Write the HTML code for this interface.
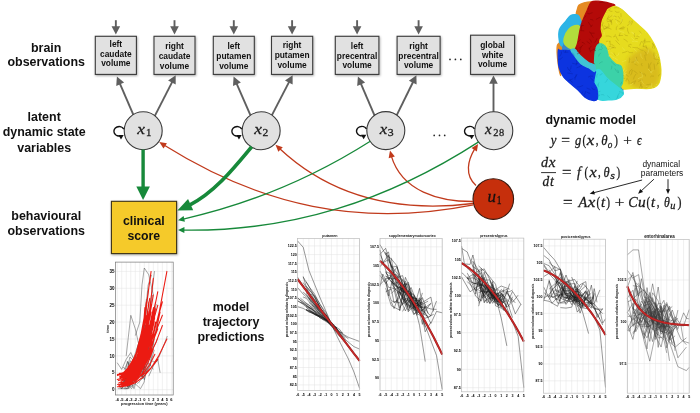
<!DOCTYPE html><html><head><meta charset="utf-8"><style>html,body{margin:0;padding:0;background:#fff;width:700px;height:413px;overflow:hidden;}svg{display:block;filter:blur(0.3px);}</style></head><body><svg width="700" height="413" viewBox="0 0 700 413"><text x="46.2" y="51.7" font-family="Liberation Sans, sans-serif" font-size="12.45" font-weight="bold" text-anchor="middle" fill="#111">brain</text><text x="46.2" y="66.4" font-family="Liberation Sans, sans-serif" font-size="12.45" font-weight="bold" text-anchor="middle" fill="#111">observations</text><text x="44.2" y="120.8" font-family="Liberation Sans, sans-serif" font-size="12.45" font-weight="bold" text-anchor="middle" fill="#111">latent</text><text x="44.2" y="135.9" font-family="Liberation Sans, sans-serif" font-size="12.45" font-weight="bold" text-anchor="middle" fill="#111">dynamic state</text><text x="44.2" y="151.9" font-family="Liberation Sans, sans-serif" font-size="12.45" font-weight="bold" text-anchor="middle" fill="#111">variables</text><text x="46.2" y="220.1" font-family="Liberation Sans, sans-serif" font-size="12.45" font-weight="bold" text-anchor="middle" fill="#111">behavioural</text><text x="46.2" y="235" font-family="Liberation Sans, sans-serif" font-size="12.45" font-weight="bold" text-anchor="middle" fill="#111">observations</text><text x="231" y="310.6" font-family="Liberation Sans, sans-serif" font-size="12.45" font-weight="bold" text-anchor="middle" fill="#111">model</text><text x="231" y="326.0" font-family="Liberation Sans, sans-serif" font-size="12.45" font-weight="bold" text-anchor="middle" fill="#111">trajectory</text><text x="231" y="340.6" font-family="Liberation Sans, sans-serif" font-size="12.45" font-weight="bold" text-anchor="middle" fill="#111">predictions</text><text x="545.5" y="124.0" font-family="Liberation Sans, sans-serif" font-size="12.45" font-weight="bold" text-anchor="start" fill="#111">dynamic model</text><filter id="sh" x="-20%" y="-20%" width="140%" height="140%"><feDropShadow dx="0.6" dy="1" stdDeviation="0.8" flood-color="#000" flood-opacity="0.35"/></filter><rect x="95.3" y="36.3" width="41.10" height="38.10" fill="#e1e1e1" stroke="#3a3a3a" stroke-width="1.1" filter="url(#sh)"/><text x="115.85" y="46.7" font-family="Liberation Sans, sans-serif" font-size="8.4" font-weight="bold" text-anchor="middle" fill="#111">left</text><text x="115.85" y="56.6" font-family="Liberation Sans, sans-serif" font-size="8.4" font-weight="bold" text-anchor="middle" fill="#111">caudate</text><text x="115.85" y="66.3" font-family="Liberation Sans, sans-serif" font-size="8.4" font-weight="bold" text-anchor="middle" fill="#111">volume</text><line x1="115.85" y1="20.20" x2="115.85" y2="27.30" stroke="#5f5f5f" stroke-width="1.9"/><path d="M115.85,34.60 L111.55,26.30 L120.15,26.30 Z" fill="#5f5f5f"/><rect x="154" y="36.3" width="41.00" height="38.10" fill="#e1e1e1" stroke="#3a3a3a" stroke-width="1.1" filter="url(#sh)"/><text x="174.50" y="49.1" font-family="Liberation Sans, sans-serif" font-size="8.4" font-weight="bold" text-anchor="middle" fill="#111">right</text><text x="174.50" y="59.1" font-family="Liberation Sans, sans-serif" font-size="8.4" font-weight="bold" text-anchor="middle" fill="#111">caudate</text><text x="174.50" y="68.5" font-family="Liberation Sans, sans-serif" font-size="8.4" font-weight="bold" text-anchor="middle" fill="#111">volume</text><line x1="174.50" y1="20.20" x2="174.50" y2="27.30" stroke="#5f5f5f" stroke-width="1.9"/><path d="M174.50,34.60 L170.20,26.30 L178.80,26.30 Z" fill="#5f5f5f"/><rect x="213.3" y="36.3" width="41.00" height="38.10" fill="#e1e1e1" stroke="#3a3a3a" stroke-width="1.1" filter="url(#sh)"/><text x="233.80" y="48.9" font-family="Liberation Sans, sans-serif" font-size="8.4" font-weight="bold" text-anchor="middle" fill="#111">left</text><text x="233.80" y="58.8" font-family="Liberation Sans, sans-serif" font-size="8.4" font-weight="bold" text-anchor="middle" fill="#111">putamen</text><text x="233.80" y="68.5" font-family="Liberation Sans, sans-serif" font-size="8.4" font-weight="bold" text-anchor="middle" fill="#111">volume</text><line x1="233.80" y1="20.20" x2="233.80" y2="27.30" stroke="#5f5f5f" stroke-width="1.9"/><path d="M233.80,34.60 L229.50,26.30 L238.10,26.30 Z" fill="#5f5f5f"/><rect x="271.5" y="36.3" width="41.20" height="38.10" fill="#e1e1e1" stroke="#3a3a3a" stroke-width="1.1" filter="url(#sh)"/><text x="292.10" y="48.1" font-family="Liberation Sans, sans-serif" font-size="8.4" font-weight="bold" text-anchor="middle" fill="#111">right</text><text x="292.10" y="58.3" font-family="Liberation Sans, sans-serif" font-size="8.4" font-weight="bold" text-anchor="middle" fill="#111">putamen</text><text x="292.10" y="67.9" font-family="Liberation Sans, sans-serif" font-size="8.4" font-weight="bold" text-anchor="middle" fill="#111">volume</text><line x1="292.10" y1="20.20" x2="292.10" y2="27.30" stroke="#5f5f5f" stroke-width="1.9"/><path d="M292.10,34.60 L287.80,26.30 L296.40,26.30 Z" fill="#5f5f5f"/><rect x="335.3" y="36.3" width="43.60" height="38.10" fill="#e1e1e1" stroke="#3a3a3a" stroke-width="1.1" filter="url(#sh)"/><text x="357.10" y="48.5" font-family="Liberation Sans, sans-serif" font-size="8.4" font-weight="bold" text-anchor="middle" fill="#111">left</text><text x="357.10" y="58.5" font-family="Liberation Sans, sans-serif" font-size="8.4" font-weight="bold" text-anchor="middle" fill="#111">precentral</text><text x="357.10" y="67.9" font-family="Liberation Sans, sans-serif" font-size="8.4" font-weight="bold" text-anchor="middle" fill="#111">volume</text><line x1="357.10" y1="20.20" x2="357.10" y2="27.30" stroke="#5f5f5f" stroke-width="1.9"/><path d="M357.10,34.60 L352.80,26.30 L361.40,26.30 Z" fill="#5f5f5f"/><rect x="397.1" y="36.3" width="43.00" height="38.10" fill="#e1e1e1" stroke="#3a3a3a" stroke-width="1.1" filter="url(#sh)"/><text x="418.60" y="48.5" font-family="Liberation Sans, sans-serif" font-size="8.4" font-weight="bold" text-anchor="middle" fill="#111">right</text><text x="418.60" y="58.5" font-family="Liberation Sans, sans-serif" font-size="8.4" font-weight="bold" text-anchor="middle" fill="#111">precentral</text><text x="418.60" y="67.9" font-family="Liberation Sans, sans-serif" font-size="8.4" font-weight="bold" text-anchor="middle" fill="#111">volume</text><line x1="418.60" y1="20.20" x2="418.60" y2="27.30" stroke="#5f5f5f" stroke-width="1.9"/><path d="M418.60,34.60 L414.30,26.30 L422.90,26.30 Z" fill="#5f5f5f"/><rect x="470.6" y="35.2" width="44.00" height="39.20" fill="#e1e1e1" stroke="#3a3a3a" stroke-width="1.1" filter="url(#sh)"/><text x="492.60" y="47.5" font-family="Liberation Sans, sans-serif" font-size="8.4" font-weight="bold" text-anchor="middle" fill="#111">global</text><text x="492.60" y="57.5" font-family="Liberation Sans, sans-serif" font-size="8.4" font-weight="bold" text-anchor="middle" fill="#111">white</text><text x="492.60" y="67.3" font-family="Liberation Sans, sans-serif" font-size="8.4" font-weight="bold" text-anchor="middle" fill="#111">volume</text><circle cx="450.0" cy="59.4" r="0.85" fill="#222"/><circle cx="455.4" cy="59.4" r="0.85" fill="#222"/><circle cx="460.8" cy="59.4" r="0.85" fill="#222"/><line x1="133.39" y1="114.88" x2="119.79" y2="83.30" stroke="#5f5f5f" stroke-width="1.9"/><path d="M116.90,76.60 L124.13,82.52 L116.23,85.92 Z" fill="#5f5f5f"/><line x1="154.71" y1="116.07" x2="172.37" y2="81.69" stroke="#5f5f5f" stroke-width="1.9"/><path d="M175.70,75.20 L175.73,84.55 L168.08,80.62 Z" fill="#5f5f5f"/><line x1="250.54" y1="115.40" x2="236.52" y2="83.29" stroke="#5f5f5f" stroke-width="1.9"/><path d="M233.60,76.60 L240.86,82.49 L232.98,85.93 Z" fill="#5f5f5f"/><line x1="271.80" y1="115.43" x2="289.25" y2="81.68" stroke="#5f5f5f" stroke-width="1.9"/><path d="M292.60,75.20 L292.61,84.55 L284.97,80.60 Z" fill="#5f5f5f"/><line x1="374.61" y1="115.62" x2="360.77" y2="83.31" stroke="#5f5f5f" stroke-width="1.9"/><path d="M357.90,76.60 L365.12,82.54 L357.21,85.92 Z" fill="#5f5f5f"/><line x1="396.64" y1="115.36" x2="413.18" y2="81.75" stroke="#5f5f5f" stroke-width="1.9"/><path d="M416.40,75.20 L416.59,84.55 L408.88,80.75 Z" fill="#5f5f5f"/><line x1="493.50" y1="112.00" x2="493.50" y2="82.70" stroke="#5f5f5f" stroke-width="1.9"/><path d="M493.50,75.40 L497.80,83.70 L489.20,83.70 Z" fill="#5f5f5f"/><circle cx="143.2" cy="130.8" r="19.0" fill="#e1e1e1" stroke="#3a3a3a" stroke-width="1.1"/><path d="M123.88,129.09 A5.3,4.7 0 1 0 120.84,135.77" fill="none" stroke="#111" stroke-width="1.45"/><path d="M118.40,135.00 L123.70,135.00 L121.00,139.40 Z" fill="#111"/><text transform="translate(137.00,134.00) scale(1.122,1)" x="0.23" y="0" font-family="Liberation Serif, serif" font-size="15.5" font-style="italic" fill="#1a1a1a" stroke="#1a1a1a" stroke-width="0.28">x</text><text transform="translate(146.10,136.10) scale(1.000,1)" x="-0.00" y="0" font-family="Liberation Serif, serif" font-size="10.8" fill="#1a1a1a" stroke="#1a1a1a" stroke-width="0.28">1</text><circle cx="261.15" cy="130.8" r="19.0" fill="#e1e1e1" stroke="#3a3a3a" stroke-width="1.1"/><path d="M241.83,129.09 A5.3,4.7 0 1 0 238.79,135.77" fill="none" stroke="#111" stroke-width="1.45"/><path d="M236.35,135.00 L241.65,135.00 L238.95,139.40 Z" fill="#111"/><text transform="translate(254.00,133.80) scale(1.122,1)" x="0.23" y="0" font-family="Liberation Serif, serif" font-size="15.5" font-style="italic" fill="#1a1a1a" stroke="#1a1a1a" stroke-width="0.28">x</text><text transform="translate(262.40,135.90) scale(1.074,1)" x="-0.00" y="0" font-family="Liberation Serif, serif" font-size="10.8" fill="#1a1a1a" stroke="#1a1a1a" stroke-width="0.28">2</text><circle cx="385.8" cy="130.6" r="19.0" fill="#e1e1e1" stroke="#3a3a3a" stroke-width="1.1"/><path d="M366.48,128.89 A5.3,4.7 0 1 0 363.44,135.57" fill="none" stroke="#111" stroke-width="1.45"/><path d="M361.00,134.80 L366.30,134.80 L363.60,139.20 Z" fill="#111"/><text transform="translate(379.40,133.80) scale(1.094,1)" x="0.23" y="0" font-family="Liberation Serif, serif" font-size="15.5" font-style="italic" fill="#1a1a1a" stroke="#1a1a1a" stroke-width="0.28">x</text><text transform="translate(387.70,136.00) scale(1.093,1)" x="-0.00" y="0" font-family="Liberation Serif, serif" font-size="10.8" fill="#1a1a1a" stroke="#1a1a1a" stroke-width="0.28">3</text><circle cx="493.8" cy="130.7" r="19.0" fill="#e1e1e1" stroke="#3a3a3a" stroke-width="1.1"/><path d="M474.48,128.99 A5.3,4.7 0 1 0 471.44,135.67" fill="none" stroke="#111" stroke-width="1.45"/><path d="M469.00,134.90 L474.30,134.90 L471.60,139.30 Z" fill="#111"/><text transform="translate(484.90,133.50) scale(0.968,1)" x="0.23" y="0" font-family="Liberation Serif, serif" font-size="15.5" font-style="italic" fill="#1a1a1a" stroke="#1a1a1a" stroke-width="0.28">x</text><text transform="translate(493.30,136.30) scale(0.981,1)" x="-0.00" y="0" font-family="Liberation Serif, serif" font-size="10.8" fill="#1a1a1a" stroke="#1a1a1a" stroke-width="0.28">2</text><text transform="translate(499.00,136.30) scale(0.963,1)" x="-0.00" y="0" font-family="Liberation Serif, serif" font-size="10.8" fill="#1a1a1a" stroke="#1a1a1a" stroke-width="0.28">8</text><circle cx="434.2" cy="135.4" r="0.85" fill="#222"/><circle cx="439.5" cy="135.4" r="0.85" fill="#222"/><circle cx="444.7" cy="135.4" r="0.85" fill="#222"/><circle cx="493.3" cy="199.1" r="20.3" fill="#c62f0c" stroke="#3a1a10" stroke-width="1.1"/><text transform="translate(487.60,201.80) scale(1.000,1)" x="-0.00" y="0" font-family="Liberation Serif, serif" font-size="17" font-style="italic" fill="#151010" stroke="#151010" stroke-width="0.28">u</text><text transform="translate(496.80,203.90) scale(0.800,1)" x="-0.00" y="0" font-family="Liberation Serif, serif" font-size="12" fill="#151010" stroke="#151010" stroke-width="0.28">1</text><path d="M473.30,204.80 C360.02,227.43 261.34,206.09 164.33,145.29" fill="none" stroke="#c13a1c" stroke-width="1.3"/><path d="M159.30,142.10 L166.93,143.14 L163.50,148.55 Z" fill="#c13a1c"/><path d="M473.00,203.50 C401.24,212.38 333.04,198.54 279.79,148.82" fill="none" stroke="#c13a1c" stroke-width="1.3"/><path d="M275.50,144.70 L282.77,147.22 L278.35,151.85 Z" fill="#c13a1c"/><path d="M473.00,201.50 C439.11,201.63 401.92,191.28 391.44,156.37" fill="none" stroke="#c13a1c" stroke-width="1.3"/><path d="M390.00,150.60 L394.85,156.58 L388.65,158.18 Z" fill="#c13a1c"/><path d="M476.00,185.50 C464.35,175.17 467.87,160.08 474.73,148.81" fill="none" stroke="#c13a1c" stroke-width="1.3"/><path d="M478.10,143.90 L476.85,151.49 L471.54,147.92 Z" fill="#c13a1c"/><path d="M370.28,141.22 C313.26,177.40 249.29,204.14 183.31,219.03" fill="none" stroke="#17893a" stroke-width="1.3"/><path d="M178.00,220.20 L183.60,215.89 L184.90,221.75 Z" fill="#17893a"/><path d="M478.65,141.83 C387.53,200.71 291.72,231.69 183.44,230.11" fill="none" stroke="#17893a" stroke-width="1.3"/><path d="M178.00,230.00 L184.46,227.12 L184.34,233.12 Z" fill="#17893a"/><path d="M251.64,146.79 C233.48,168.71 214.55,192.39 188.69,205.67" fill="none" stroke="#17893a" stroke-width="3.7"/><path d="M177.40,210.60 L188.06,198.95 L193.19,210.35 Z" fill="#17893a"/><line x1="143.10" y1="149.60" x2="143.10" y2="187.60" stroke="#17893a" stroke-width="3.4"/><path d="M143.10,200.10 L136.30,186.60 L149.90,186.60 Z" fill="#17893a"/><rect x="111.4" y="201.3" width="65.2" height="52.3" fill="#f5ca2c" stroke="#3a3218" stroke-width="1.1" filter="url(#sh)"/><text x="143.8" y="224.7" font-family="Liberation Sans, sans-serif" font-size="12.3" font-weight="bold" text-anchor="middle" fill="#111">clinical</text><text x="143.8" y="240" font-family="Liberation Sans, sans-serif" font-size="12.3" font-weight="bold" text-anchor="middle" fill="#111">score</text><text transform="translate(549.70,145.30) scale(0.879,1)" x="1.24" y="0" font-family="Liberation Serif, serif" font-size="14.6" font-style="italic" fill="#1a1a1a" stroke="#1a1a1a" stroke-width="0.28">y</text><text transform="translate(561.20,145.30) scale(1.055,1)" x="-0.00" y="0" font-family="Liberation Serif, serif" font-size="14.6" fill="#1a1a1a" stroke="#1a1a1a" stroke-width="0.28">=</text><text transform="translate(574.90,145.30) scale(0.863,1)" x="-0.00" y="0" font-family="Liberation Serif, serif" font-size="14.6" font-style="italic" fill="#1a1a1a" stroke="#1a1a1a" stroke-width="0.28">g</text><text transform="translate(582.40,145.30) scale(0.750,1)" x="-0.00" y="0" font-family="Liberation Serif, serif" font-size="14.6" fill="#1a1a1a" stroke="#1a1a1a" stroke-width="0.28">(</text><text transform="translate(586.40,145.30) scale(1.161,1)" x="0.22" y="0" font-family="Liberation Serif, serif" font-size="14.6" font-style="italic" fill="#1a1a1a" stroke="#1a1a1a" stroke-width="0.28">x</text><text transform="translate(595.80,145.30) scale(0.750,1)" x="-0.00" y="0" font-family="Liberation Serif, serif" font-size="14.6" fill="#1a1a1a" stroke="#1a1a1a" stroke-width="0.28">,</text><text transform="translate(601.30,145.30) scale(0.881,1)" x="-0.00" y="0" font-family="Liberation Serif, serif" font-size="14.6" font-style="italic" fill="#1a1a1a" stroke="#1a1a1a" stroke-width="0.28">θ</text><text transform="translate(607.80,147.50) scale(0.876,1)" x="-0.00" y="0" font-family="Liberation Serif, serif" font-size="10.5" font-style="italic" fill="#1a1a1a" stroke="#1a1a1a" stroke-width="0.28">o</text><text transform="translate(614.20,145.30) scale(0.750,1)" x="-0.00" y="0" font-family="Liberation Serif, serif" font-size="14.6" fill="#1a1a1a" stroke="#1a1a1a" stroke-width="0.28">)</text><text transform="translate(623.30,145.30) scale(1.043,1)" x="-0.00" y="0" font-family="Liberation Serif, serif" font-size="14.6" fill="#1a1a1a" stroke="#1a1a1a" stroke-width="0.28">+</text><text transform="translate(637.10,145.30) scale(0.778,1)" x="-0.00" y="0" font-family="Liberation Serif, serif" font-size="14.6" font-style="italic" fill="#1a1a1a" stroke="#1a1a1a" stroke-width="0.28">ϵ</text><text transform="translate(541.10,166.90) scale(0.977,1)" x="-0.00" y="0" font-family="Liberation Serif, serif" font-size="14.6" font-style="italic" fill="#1a1a1a" stroke="#1a1a1a" stroke-width="0.28">d</text><text transform="translate(548.60,166.90) scale(1.042,1)" x="0.22" y="0" font-family="Liberation Serif, serif" font-size="14.6" font-style="italic" fill="#1a1a1a" stroke="#1a1a1a" stroke-width="0.28">x</text><line x1="541.1" y1="172.6" x2="556" y2="172.6" stroke="#1a1a1a" stroke-width="0.9"/><text transform="translate(542.50,185.50) scale(0.922,1)" x="-0.00" y="0" font-family="Liberation Serif, serif" font-size="14.6" font-style="italic" fill="#1a1a1a" stroke="#1a1a1a" stroke-width="0.28">d</text><text transform="translate(549.90,185.50) scale(0.936,1)" x="-0.00" y="0" font-family="Liberation Serif, serif" font-size="14.6" font-style="italic" fill="#1a1a1a" stroke="#1a1a1a" stroke-width="0.28">t</text><text transform="translate(562.10,176.60) scale(1.152,1)" x="-0.00" y="0" font-family="Liberation Serif, serif" font-size="14.6" fill="#1a1a1a" stroke="#1a1a1a" stroke-width="0.28">=</text><text transform="translate(577.10,176.60) scale(0.936,1)" x="-0.00" y="0" font-family="Liberation Serif, serif" font-size="14.6" font-style="italic" fill="#1a1a1a" stroke="#1a1a1a" stroke-width="0.28">f</text><text transform="translate(584.50,176.60) scale(0.756,1)" x="-0.00" y="0" font-family="Liberation Serif, serif" font-size="14.6" fill="#1a1a1a" stroke="#1a1a1a" stroke-width="0.28">(</text><text transform="translate(589.30,176.60) scale(1.117,1)" x="0.22" y="0" font-family="Liberation Serif, serif" font-size="14.6" font-style="italic" fill="#1a1a1a" stroke="#1a1a1a" stroke-width="0.28">x</text><text transform="translate(598.10,176.60) scale(0.750,1)" x="-0.00" y="0" font-family="Liberation Serif, serif" font-size="14.6" fill="#1a1a1a" stroke="#1a1a1a" stroke-width="0.28">,</text><text transform="translate(603.50,176.60) scale(0.853,1)" x="-0.00" y="0" font-family="Liberation Serif, serif" font-size="14.6" font-style="italic" fill="#1a1a1a" stroke="#1a1a1a" stroke-width="0.28">θ</text><text transform="translate(610.30,178.80) scale(1.123,1)" x="-0.00" y="0" font-family="Liberation Serif, serif" font-size="10.5" font-style="italic" fill="#1a1a1a" stroke="#1a1a1a" stroke-width="0.28">s</text><text transform="translate(616.60,176.60) scale(0.756,1)" x="-0.00" y="0" font-family="Liberation Serif, serif" font-size="14.6" fill="#1a1a1a" stroke="#1a1a1a" stroke-width="0.28">)</text><text transform="translate(563.10,206.50) scale(1.164,1)" x="-0.00" y="0" font-family="Liberation Serif, serif" font-size="14.6" fill="#1a1a1a" stroke="#1a1a1a" stroke-width="0.28">=</text><text transform="translate(577.80,206.50) scale(0.981,1)" x="0.80" y="0" font-family="Liberation Serif, serif" font-size="14.6" font-style="italic" fill="#1a1a1a" stroke="#1a1a1a" stroke-width="0.28">A</text><text transform="translate(587.60,206.50) scale(1.176,1)" x="0.22" y="0" font-family="Liberation Serif, serif" font-size="14.6" font-style="italic" fill="#1a1a1a" stroke="#1a1a1a" stroke-width="0.28">x</text><text transform="translate(596.50,206.50) scale(0.750,1)" x="-0.00" y="0" font-family="Liberation Serif, serif" font-size="14.6" fill="#1a1a1a" stroke="#1a1a1a" stroke-width="0.28">(</text><text transform="translate(600.90,206.50) scale(1.005,1)" x="-0.00" y="0" font-family="Liberation Serif, serif" font-size="14.6" font-style="italic" fill="#1a1a1a" stroke="#1a1a1a" stroke-width="0.28">t</text><text transform="translate(606.30,206.50) scale(0.777,1)" x="-0.00" y="0" font-family="Liberation Serif, serif" font-size="14.6" fill="#1a1a1a" stroke="#1a1a1a" stroke-width="0.28">)</text><text transform="translate(614.80,206.50) scale(1.164,1)" x="-0.00" y="0" font-family="Liberation Serif, serif" font-size="14.6" fill="#1a1a1a" stroke="#1a1a1a" stroke-width="0.28">+</text><text transform="translate(628.30,206.50) scale(0.967,1)" x="-0.00" y="0" font-family="Liberation Serif, serif" font-size="14.6" font-style="italic" fill="#1a1a1a" stroke="#1a1a1a" stroke-width="0.28">C</text><text transform="translate(637.90,206.50) scale(1.055,1)" x="-0.00" y="0" font-family="Liberation Serif, serif" font-size="14.6" font-style="italic" fill="#1a1a1a" stroke="#1a1a1a" stroke-width="0.28">u</text><text transform="translate(646.60,206.50) scale(0.756,1)" x="-0.00" y="0" font-family="Liberation Serif, serif" font-size="14.6" fill="#1a1a1a" stroke="#1a1a1a" stroke-width="0.28">(</text><text transform="translate(651.00,206.50) scale(0.982,1)" x="-0.00" y="0" font-family="Liberation Serif, serif" font-size="14.6" font-style="italic" fill="#1a1a1a" stroke="#1a1a1a" stroke-width="0.28">t</text><text transform="translate(656.80,206.50) scale(0.750,1)" x="-0.00" y="0" font-family="Liberation Serif, serif" font-size="14.6" fill="#1a1a1a" stroke="#1a1a1a" stroke-width="0.28">,</text><text transform="translate(664.00,206.50) scale(0.811,1)" x="-0.00" y="0" font-family="Liberation Serif, serif" font-size="14.6" font-style="italic" fill="#1a1a1a" stroke="#1a1a1a" stroke-width="0.28">θ</text><text transform="translate(670.30,208.70) scale(0.990,1)" x="-0.00" y="0" font-family="Liberation Serif, serif" font-size="10.5" font-style="italic" fill="#1a1a1a" stroke="#1a1a1a" stroke-width="0.28">u</text><text transform="translate(677.50,206.50) scale(0.818,1)" x="-0.00" y="0" font-family="Liberation Serif, serif" font-size="14.6" fill="#1a1a1a" stroke="#1a1a1a" stroke-width="0.28">)</text><text x="661.3" y="167.1" font-family="Liberation Sans, sans-serif" font-size="8.4" text-anchor="middle" fill="#111">dynamical</text><text x="662" y="176.1" font-family="Liberation Sans, sans-serif" font-size="8.4" text-anchor="middle" fill="#111">parameters</text><line x1="642.10" y1="180.00" x2="593.37" y2="192.83" stroke="#111" stroke-width="0.9"/><path d="M589.70,193.80 L593.81,190.55 L594.88,194.61 Z" fill="#111"/><line x1="653.90" y1="179.20" x2="640.89" y2="191.22" stroke="#111" stroke-width="0.9"/><path d="M638.10,193.80 L640.20,189.00 L643.05,192.08 Z" fill="#111"/><line x1="668.00" y1="179.20" x2="668.00" y2="190.30" stroke="#111" stroke-width="0.9"/><path d="M668.00,194.10 L665.90,189.30 L670.10,189.30 Z" fill="#111"/><rect x="297.6" y="238.6" width="62.00" height="151.80" fill="#fff" stroke="none"/><path d="M297.60,238.60V390.40M303.24,238.60V390.40M308.87,238.60V390.40M314.51,238.60V390.40M320.15,238.60V390.40M325.78,238.60V390.40M331.42,238.60V390.40M337.05,238.60V390.40M342.69,238.60V390.40M348.33,238.60V390.40M353.96,238.60V390.40M359.60,238.60V390.40M297.60,384.90H359.60M297.60,376.21H359.60M297.60,367.52H359.60M297.60,358.84H359.60M297.60,350.15H359.60M297.60,341.46H359.60M297.60,332.77H359.60M297.60,324.09H359.60M297.60,315.40H359.60M297.60,306.71H359.60M297.60,298.02H359.60M297.60,289.34H359.60M297.60,280.65H359.60M297.60,271.96H359.60M297.60,263.27H359.60M297.60,254.59H359.60M297.60,245.90H359.60" stroke="#e2e2e2" stroke-width="0.5" fill="none"/><text x="297.60" y="395.60" font-family="Liberation Sans, sans-serif" font-size="3.6" font-weight="bold" text-anchor="middle" fill="#000">-6</text><text x="303.24" y="395.60" font-family="Liberation Sans, sans-serif" font-size="3.6" font-weight="bold" text-anchor="middle" fill="#000">-5</text><text x="308.87" y="395.60" font-family="Liberation Sans, sans-serif" font-size="3.6" font-weight="bold" text-anchor="middle" fill="#000">-4</text><text x="314.51" y="395.60" font-family="Liberation Sans, sans-serif" font-size="3.6" font-weight="bold" text-anchor="middle" fill="#000">-3</text><text x="320.15" y="395.60" font-family="Liberation Sans, sans-serif" font-size="3.6" font-weight="bold" text-anchor="middle" fill="#000">-2</text><text x="325.78" y="395.60" font-family="Liberation Sans, sans-serif" font-size="3.6" font-weight="bold" text-anchor="middle" fill="#000">-1</text><text x="331.42" y="395.60" font-family="Liberation Sans, sans-serif" font-size="3.6" font-weight="bold" text-anchor="middle" fill="#000">0</text><text x="337.05" y="395.60" font-family="Liberation Sans, sans-serif" font-size="3.6" font-weight="bold" text-anchor="middle" fill="#000">1</text><text x="342.69" y="395.60" font-family="Liberation Sans, sans-serif" font-size="3.6" font-weight="bold" text-anchor="middle" fill="#000">2</text><text x="348.33" y="395.60" font-family="Liberation Sans, sans-serif" font-size="3.6" font-weight="bold" text-anchor="middle" fill="#000">3</text><text x="353.96" y="395.60" font-family="Liberation Sans, sans-serif" font-size="3.6" font-weight="bold" text-anchor="middle" fill="#000">4</text><text x="359.60" y="395.60" font-family="Liberation Sans, sans-serif" font-size="3.6" font-weight="bold" text-anchor="middle" fill="#000">5</text><text x="296.70" y="386.20" font-family="Liberation Sans, sans-serif" font-size="3.6" font-weight="bold" text-anchor="end" fill="#000">82.5</text><text x="296.70" y="377.51" font-family="Liberation Sans, sans-serif" font-size="3.6" font-weight="bold" text-anchor="end" fill="#000">85</text><text x="296.70" y="368.82" font-family="Liberation Sans, sans-serif" font-size="3.6" font-weight="bold" text-anchor="end" fill="#000">87.5</text><text x="296.70" y="360.13" font-family="Liberation Sans, sans-serif" font-size="3.6" font-weight="bold" text-anchor="end" fill="#000">90</text><text x="296.70" y="351.45" font-family="Liberation Sans, sans-serif" font-size="3.6" font-weight="bold" text-anchor="end" fill="#000">92.5</text><text x="296.70" y="342.76" font-family="Liberation Sans, sans-serif" font-size="3.6" font-weight="bold" text-anchor="end" fill="#000">95</text><text x="296.70" y="334.07" font-family="Liberation Sans, sans-serif" font-size="3.6" font-weight="bold" text-anchor="end" fill="#000">97.5</text><text x="296.70" y="325.38" font-family="Liberation Sans, sans-serif" font-size="3.6" font-weight="bold" text-anchor="end" fill="#000">100</text><text x="296.70" y="316.70" font-family="Liberation Sans, sans-serif" font-size="3.6" font-weight="bold" text-anchor="end" fill="#000">102.5</text><text x="296.70" y="308.01" font-family="Liberation Sans, sans-serif" font-size="3.6" font-weight="bold" text-anchor="end" fill="#000">105</text><text x="296.70" y="299.32" font-family="Liberation Sans, sans-serif" font-size="3.6" font-weight="bold" text-anchor="end" fill="#000">107.5</text><text x="296.70" y="290.63" font-family="Liberation Sans, sans-serif" font-size="3.6" font-weight="bold" text-anchor="end" fill="#000">110</text><text x="296.70" y="281.95" font-family="Liberation Sans, sans-serif" font-size="3.6" font-weight="bold" text-anchor="end" fill="#000">112.5</text><text x="296.70" y="273.26" font-family="Liberation Sans, sans-serif" font-size="3.6" font-weight="bold" text-anchor="end" fill="#000">115</text><text x="296.70" y="264.57" font-family="Liberation Sans, sans-serif" font-size="3.6" font-weight="bold" text-anchor="end" fill="#000">117.5</text><text x="296.70" y="255.88" font-family="Liberation Sans, sans-serif" font-size="3.6" font-weight="bold" text-anchor="end" fill="#000">120</text><text x="296.70" y="247.20" font-family="Liberation Sans, sans-serif" font-size="3.6" font-weight="bold" text-anchor="end" fill="#000">122.5</text><text x="329.80" y="237.30" font-family="Liberation Sans, sans-serif" font-size="3.65" font-weight="bold" text-anchor="middle" fill="#111">putamen</text><text transform="translate(288.00,309.70) rotate(-90)" x="0" y="0" font-family="Liberation Sans, sans-serif" font-size="3.2" font-weight="bold" text-anchor="middle" fill="#222">percent volume relative to diagnosis</text><path d="M303.2,277.2 L308.9,286.4 L314.5,296.6 L317.3,301.7 L323.0,312.0 L325.8,314.2 L331.4,324.3 L339.9,329.6 L342.7,333.7M308.9,302.4 L314.5,307.9 L320.1,314.4 L325.8,319.5 L331.4,324.4 L337.1,330.8M300.4,302.2 L306.1,304.9 L314.5,311.1 L320.1,318.2 L325.8,320.1 L331.4,324.7 L337.1,327.7M308.9,295.0 L314.5,303.3 L320.1,311.1 L325.8,317.3 L328.6,321.6 L334.2,326.1M297.6,298.0 L306.1,305.2 L314.5,313.1 L320.1,316.6 L328.6,322.0 L334.2,327.5 L342.7,337.4 L348.3,346.4M306.1,288.5 L314.5,302.0 L317.3,306.5 L325.8,315.1 L331.4,325.4 L337.1,329.2 L339.9,332.4 L348.3,338.7M306.1,309.6 L314.5,312.9 L323.0,319.7 L328.6,321.2 L334.2,328.2 L337.1,331.3 L345.5,341.1M306.1,281.6 L308.9,286.4 L314.5,294.0 L320.1,304.6 L325.8,312.4 L331.4,324.2 L337.1,327.9M306.1,309.6 L308.9,312.1 L311.7,312.9 L317.3,315.0 L323.0,317.4 L331.4,322.7 L337.1,328.8 L339.9,333.1 L345.5,338.1M308.9,296.4 L317.3,308.0 L320.1,309.9 L325.8,318.0 L331.4,325.8 L334.2,327.4 L339.9,334.5M306.1,288.6 L311.7,297.5 L317.3,302.2 L320.1,308.2 L328.6,319.0 L337.1,331.4 L342.7,332.8M306.1,293.2 L311.7,303.5 L320.1,312.2 L325.8,320.1 L331.4,324.0 L337.1,331.5M297.6,300.9 L303.2,303.6 L311.7,312.0 L317.3,314.8 L320.1,315.7 L325.8,319.3 L334.2,326.8M300.4,298.2 L308.9,305.3 L314.5,310.4 L323.0,316.2 L328.6,322.4 L334.2,326.6M308.9,310.1 L314.5,313.3 L317.3,315.2 L323.0,317.7 L328.6,322.9 L334.2,325.9 L337.1,330.9M306.1,309.6 L311.7,312.2 L314.5,314.5 L320.1,316.0 L323.0,319.0 L328.6,320.8 L331.4,322.7 L337.1,331.1M303.2,276.4 L306.1,286.4 L314.5,296.2 L320.1,307.8 L325.8,315.7 L328.6,319.4 L331.4,323.2 L334.2,327.0M308.9,295.2 L311.7,294.4 L317.3,306.0 L320.1,308.5 L328.6,318.4 L334.2,328.1M306.1,286.1 L311.7,292.5 L314.5,297.4 L323.0,312.7 L328.6,321.7 L334.2,327.5M306.1,307.2 L314.5,314.4 L317.3,316.0 L323.0,318.2 L328.6,320.4 L331.4,324.3 L334.2,325.8 L337.1,332.2M303.2,291.9 L311.7,301.0 L320.1,311.9 L325.8,317.3 L331.4,323.6 L337.1,329.5M303.2,282.6 L308.9,291.5 L317.3,305.4 L323.0,311.6 L328.6,319.1 L331.4,324.4M308.9,307.5 L317.3,312.7 L325.8,318.4 L331.4,322.1 L337.1,329.7 L342.7,337.4M306.1,309.9 L314.5,314.1 L320.1,317.3 L325.8,321.6 L328.6,322.8 L334.2,329.2M308.9,298.0 L314.5,305.2 L320.1,309.6 L325.8,318.3 L331.4,322.9 L337.1,329.6M311.7,304.8 L317.3,310.7 L325.8,317.8 L331.4,323.3 L337.1,329.9M314.5,295.3 L320.1,304.4 L328.6,319.7 L334.2,330.1 L339.9,336.9M297.6,300.7 L303.2,304.4 L306.1,306.4 L311.7,308.5 L314.5,312.2 L320.1,315.5 L325.8,320.7 L331.4,325.9 L337.1,329.1M303.2,297.0 L306.1,298.2 L311.7,304.5 L320.1,311.8 L323.0,314.4 L331.4,324.4 L334.2,324.7M306.1,305.0 L314.5,311.4 L320.1,315.0 L325.8,319.5 L331.4,325.9" fill="none" stroke="#1a1a1a" stroke-width="0.45" stroke-linejoin="round"/><path d="M297.60,241.03 L303.24,247.29 L308.87,270.23 L314.51,284.12 L320.15,298.02 L325.78,310.88 L331.42,324.09 L337.05,336.25 L342.69,347.72 L348.33,358.84 L353.96,372.04 L359.60,388.38" fill="none" stroke="#1a1a1a" stroke-width="0.45" stroke-opacity="1" stroke-linejoin="round"/><path d="M297.60,277.18 L303.24,285.86 L308.87,295.25 L314.51,301.50 L320.15,308.45 L325.78,317.14 L331.42,324.09" fill="none" stroke="#1a1a1a" stroke-width="0.45" stroke-opacity="1" stroke-linejoin="round"/><path d="M297.60,287.60 L303.24,294.20 L308.87,299.07 L314.51,304.98 L320.15,311.58" fill="none" stroke="#1a1a1a" stroke-width="0.45" stroke-opacity="1" stroke-linejoin="round"/><path d="M297.60,298.02 L303.24,302.19 L308.87,304.98 L314.51,309.14 L320.15,313.66" fill="none" stroke="#1a1a1a" stroke-width="0.45" stroke-opacity="1" stroke-linejoin="round"/><path d="M297.60,306.71 L303.24,308.45 L308.87,311.58 L314.51,314.36 L320.15,317.14" fill="none" stroke="#1a1a1a" stroke-width="0.45" stroke-opacity="1" stroke-linejoin="round"/><path d="M331.42,324.09 L337.05,329.30 L342.69,333.82 L348.33,337.29 L353.96,339.38 L359.60,341.46" fill="none" stroke="#1a1a1a" stroke-width="0.45" stroke-opacity="1" stroke-linejoin="round"/><path d="M331.42,324.09 L337.05,331.04 L342.69,336.94 L348.33,342.16 L353.96,346.67 L359.60,349.11" fill="none" stroke="#1a1a1a" stroke-width="0.45" stroke-opacity="1" stroke-linejoin="round"/><path d="M297.60,279.26 L300.42,282.99 L303.24,286.72 L306.05,290.45 L308.87,294.17 L311.69,297.90 L314.51,301.62 L317.33,305.34 L320.15,309.06 L322.96,312.78 L325.78,316.49 L328.60,320.20 L331.42,323.91 L334.24,327.62 L337.05,331.33 L339.87,335.04 L342.69,338.74 L345.51,342.44 L348.33,346.14 L351.15,349.84 L353.96,353.54 L356.78,357.23 L359.60,360.92" fill="none" stroke="#952020" stroke-width="2.1" stroke-opacity="1" stroke-linejoin="round"/><path d="M297.60,279.26 L300.42,282.99 L303.24,286.72 L306.05,290.45 L308.87,294.17 L311.69,297.90 L314.51,301.62 L317.33,305.34 L320.15,309.06 L322.96,312.78 L325.78,316.49 L328.60,320.20 L331.42,323.91 L334.24,327.62 L337.05,331.33 L339.87,335.04 L342.69,338.74 L345.51,342.44 L348.33,346.14 L351.15,349.84 L353.96,353.54 L356.78,357.23 L359.60,360.92" fill="none" stroke="#c62828" stroke-width="1.35" stroke-opacity="1" stroke-linejoin="round"/><rect x="297.6" y="238.6" width="62.00" height="151.80" fill="none" stroke="#bdbdbd" stroke-width="0.7"/><rect x="380" y="238.6" width="62.20" height="151.80" fill="#fff" stroke="none"/><path d="M380.00,238.60V390.40M385.65,238.60V390.40M391.31,238.60V390.40M396.96,238.60V390.40M402.62,238.60V390.40M408.27,238.60V390.40M413.93,238.60V390.40M419.58,238.60V390.40M425.24,238.60V390.40M430.89,238.60V390.40M436.55,238.60V390.40M442.20,238.60V390.40M380.00,378.10H442.20M380.00,359.34H442.20M380.00,340.59H442.20M380.00,321.83H442.20M380.00,303.07H442.20M380.00,284.31H442.20M380.00,265.56H442.20M380.00,246.80H442.20" stroke="#e2e2e2" stroke-width="0.5" fill="none"/><text x="380.00" y="395.60" font-family="Liberation Sans, sans-serif" font-size="3.6" font-weight="bold" text-anchor="middle" fill="#000">-6</text><text x="385.65" y="395.60" font-family="Liberation Sans, sans-serif" font-size="3.6" font-weight="bold" text-anchor="middle" fill="#000">-5</text><text x="391.31" y="395.60" font-family="Liberation Sans, sans-serif" font-size="3.6" font-weight="bold" text-anchor="middle" fill="#000">-4</text><text x="396.96" y="395.60" font-family="Liberation Sans, sans-serif" font-size="3.6" font-weight="bold" text-anchor="middle" fill="#000">-3</text><text x="402.62" y="395.60" font-family="Liberation Sans, sans-serif" font-size="3.6" font-weight="bold" text-anchor="middle" fill="#000">-2</text><text x="408.27" y="395.60" font-family="Liberation Sans, sans-serif" font-size="3.6" font-weight="bold" text-anchor="middle" fill="#000">-1</text><text x="413.93" y="395.60" font-family="Liberation Sans, sans-serif" font-size="3.6" font-weight="bold" text-anchor="middle" fill="#000">0</text><text x="419.58" y="395.60" font-family="Liberation Sans, sans-serif" font-size="3.6" font-weight="bold" text-anchor="middle" fill="#000">1</text><text x="425.24" y="395.60" font-family="Liberation Sans, sans-serif" font-size="3.6" font-weight="bold" text-anchor="middle" fill="#000">2</text><text x="430.89" y="395.60" font-family="Liberation Sans, sans-serif" font-size="3.6" font-weight="bold" text-anchor="middle" fill="#000">3</text><text x="436.55" y="395.60" font-family="Liberation Sans, sans-serif" font-size="3.6" font-weight="bold" text-anchor="middle" fill="#000">4</text><text x="442.20" y="395.60" font-family="Liberation Sans, sans-serif" font-size="3.6" font-weight="bold" text-anchor="middle" fill="#000">5</text><text x="379.10" y="379.40" font-family="Liberation Sans, sans-serif" font-size="3.6" font-weight="bold" text-anchor="end" fill="#000">90</text><text x="379.10" y="360.64" font-family="Liberation Sans, sans-serif" font-size="3.6" font-weight="bold" text-anchor="end" fill="#000">92.5</text><text x="379.10" y="341.88" font-family="Liberation Sans, sans-serif" font-size="3.6" font-weight="bold" text-anchor="end" fill="#000">95</text><text x="379.10" y="323.12" font-family="Liberation Sans, sans-serif" font-size="3.6" font-weight="bold" text-anchor="end" fill="#000">97.5</text><text x="379.10" y="304.37" font-family="Liberation Sans, sans-serif" font-size="3.6" font-weight="bold" text-anchor="end" fill="#000">100</text><text x="379.10" y="285.61" font-family="Liberation Sans, sans-serif" font-size="3.6" font-weight="bold" text-anchor="end" fill="#000">102.5</text><text x="379.10" y="266.85" font-family="Liberation Sans, sans-serif" font-size="3.6" font-weight="bold" text-anchor="end" fill="#000">105</text><text x="379.10" y="248.10" font-family="Liberation Sans, sans-serif" font-size="3.6" font-weight="bold" text-anchor="end" fill="#000">107.5</text><text x="412.30" y="237.30" font-family="Liberation Sans, sans-serif" font-size="3.65" font-weight="bold" text-anchor="middle" fill="#111">supplementarymotorcortex</text><text transform="translate(370.40,309.70) rotate(-90)" x="0" y="0" font-family="Liberation Sans, sans-serif" font-size="3.2" font-weight="bold" text-anchor="middle" fill="#222">percent volume relative to diagnosis</text><path d="M380.0,275.4 L385.7,283.0 L391.3,300.9 L399.8,303.0 L405.4,288.5 L413.9,303.1 L419.6,310.9M391.3,293.5 L397.0,287.6 L405.4,303.0 L411.1,306.7 L413.9,305.1 L419.6,305.6 L428.1,301.1M385.7,288.2 L391.3,305.7 L399.8,310.2 L405.4,282.9 L411.1,294.7 L416.8,306.3 L425.2,307.4 L430.9,303.6M397.0,293.1 L405.4,284.8 L411.1,305.5 L416.8,303.2 L422.4,297.5 L428.1,313.4M402.6,299.5 L411.1,300.7 L416.8,305.6 L425.2,300.7 L430.9,297.1 L433.7,311.5M385.7,271.9 L391.3,282.3 L399.8,290.3 L402.6,279.5 L411.1,297.1 L416.8,298.8 L419.6,314.0M385.7,252.7 L388.5,260.6 L391.3,265.3 L394.1,274.4 L399.8,277.8 L405.4,290.1 L413.9,303.1M380.0,286.5 L382.8,274.0 L388.5,287.3 L394.1,288.5 L402.6,294.4 L408.3,311.6 L413.9,295.5M391.3,301.8 L394.1,308.6 L399.8,291.8 L408.3,307.0 L416.8,310.3M391.3,275.8 L394.1,278.7 L402.6,275.6 L408.3,297.6 L411.1,295.8 L416.8,299.7 L422.4,324.4 L425.2,304.1M391.3,281.0 L399.8,289.5 L405.4,291.8 L413.9,295.2 L416.8,300.8M385.7,254.1 L388.5,252.0 L391.3,267.2 L397.0,266.3 L402.6,284.2 L408.3,301.6 L413.9,304.7 L419.6,306.3M402.6,284.3 L408.3,284.3 L413.9,308.4 L419.6,288.3 L422.4,307.1 L430.9,323.4 L436.5,311.4 L442.2,312.8M380.0,249.9 L382.8,262.9 L388.5,259.6 L397.0,277.8 L399.8,282.0 L405.4,294.3 L411.1,287.5 L416.8,302.6 L422.4,302.8 L428.1,313.5 L430.9,315.6M391.3,257.9 L394.1,276.2 L402.6,293.1 L408.3,305.5 L413.9,308.3 L419.6,303.5 L425.2,331.8 L430.9,322.2M385.7,291.8 L391.3,289.0 L394.1,303.0 L397.0,299.9 L399.8,310.7 L405.4,277.3 L411.1,290.6 L413.9,311.1 L419.6,300.9M380.0,266.8 L388.5,255.2 L394.1,282.8 L397.0,287.0 L405.4,288.7 L411.1,297.8 L416.8,300.9M408.3,311.6 L416.8,302.9M402.6,304.5 L408.3,299.1 L413.9,309.1M385.7,276.0 L394.1,284.0 L399.8,280.4 L402.6,298.7 L408.3,290.7 L413.9,302.5 L419.6,305.1 L428.1,317.8 L430.9,315.5 L436.5,301.1M408.3,307.4 L413.9,301.7 L422.4,307.3M385.7,278.0 L388.5,295.9 L394.1,273.6 L397.0,285.1 L405.4,305.4 L411.1,299.0 L416.8,305.7 L419.6,297.7 L422.4,313.5 L428.1,316.3M385.7,276.4 L391.3,278.5 L397.0,286.0 L402.6,288.9 L405.4,302.5 L411.1,293.9M391.3,283.3 L399.8,294.5 L405.4,281.3 L411.1,293.5 L416.8,311.5 L422.4,314.7 L430.9,303.2M385.7,272.9 L388.5,275.4 L394.1,274.9 L402.6,289.2 L405.4,287.2 L408.3,302.4 L413.9,314.8 L419.6,307.6 L425.2,307.0 L430.9,309.0 L436.5,309.4M397.0,288.0 L399.8,298.4 L405.4,310.9 L411.1,299.1 L416.8,311.5 L422.4,292.9M397.0,294.5 L405.4,285.9 L413.9,313.7 L419.6,311.5 L425.2,308.0M380.0,284.7 L385.7,278.8 L391.3,277.9 L397.0,302.0 L402.6,289.6 L408.3,293.7 L411.1,301.2 L413.9,307.3 L419.6,299.9 L422.4,312.1M385.7,271.5 L391.3,274.1 L397.0,274.9 L402.6,291.9 L408.3,292.9 L413.9,299.0 L419.6,305.8M408.3,291.0 L411.1,302.1M391.3,281.5 L399.8,289.3 L405.4,293.4 L411.1,297.5 L416.8,310.5 L425.2,318.3 L433.7,314.3M397.0,291.3 L402.6,304.6 L405.4,294.2 L411.1,298.0 L419.6,304.1M380.0,244.6 L385.7,254.6 L388.5,256.6 L391.3,258.9 L397.0,265.9 L399.8,282.9 L405.4,289.4 L413.9,294.5 L416.8,299.9 L419.6,301.4 L422.4,305.5M385.7,252.2 L391.3,279.2 L394.1,278.5 L399.8,281.6 L402.6,285.9 L411.1,298.0 L419.6,299.3M402.6,311.4 L408.3,301.1 L413.9,300.7 L419.6,300.5M391.3,266.0 L397.0,286.9 L402.6,289.1 L408.3,282.2 L413.9,306.7 L422.4,310.8 L425.2,306.7M380.0,254.1 L382.8,260.4 L388.5,279.3 L397.0,267.1 L402.6,283.5 L408.3,296.9 L413.9,304.3 L416.8,297.9M397.0,282.3 L402.6,291.5 L408.3,293.6 L416.8,313.5 L422.4,316.5 L425.2,327.2M380.0,271.0 L385.7,283.5 L391.3,275.6 L399.8,307.8 L405.4,298.5 L411.1,299.0 L416.8,315.4 L422.4,298.4M397.0,281.7 L402.6,287.5 L408.3,310.1 L413.9,296.6 L419.6,306.0 L425.2,313.8" fill="none" stroke="#1a1a1a" stroke-width="0.45" stroke-linejoin="round"/><path d="M419.58,310.57 L425.24,325.58 L430.89,340.59 L436.55,355.59 L442.20,389.35" fill="none" stroke="#1a1a1a" stroke-width="0.45" stroke-opacity="1" stroke-linejoin="round"/><path d="M413.93,303.07 L419.58,325.58 L425.24,361.59" fill="none" stroke="#1a1a1a" stroke-width="0.45" stroke-opacity="1" stroke-linejoin="round"/><path d="M380.00,254.30 L385.65,248.30 L391.31,265.56 L396.96,273.06 L402.62,280.56" fill="none" stroke="#1a1a1a" stroke-width="0.45" stroke-opacity="1" stroke-linejoin="round"/><path d="M380.00,260.75 L382.83,263.42 L385.65,266.24 L388.48,269.21 L391.31,272.33 L394.14,275.60 L396.96,279.03 L399.79,282.61 L402.62,286.33 L405.45,290.22 L408.27,294.25 L411.10,298.43 L413.93,302.77 L416.75,307.25 L419.58,311.89 L422.41,316.68 L425.24,321.63 L428.06,326.72 L430.89,331.96 L433.72,337.36 L436.55,342.91 L439.37,348.61 L442.20,354.46" fill="none" stroke="#952020" stroke-width="2.1" stroke-opacity="1" stroke-linejoin="round"/><path d="M380.00,260.75 L382.83,263.42 L385.65,266.24 L388.48,269.21 L391.31,272.33 L394.14,275.60 L396.96,279.03 L399.79,282.61 L402.62,286.33 L405.45,290.22 L408.27,294.25 L411.10,298.43 L413.93,302.77 L416.75,307.25 L419.58,311.89 L422.41,316.68 L425.24,321.63 L428.06,326.72 L430.89,331.96 L433.72,337.36 L436.55,342.91 L439.37,348.61 L442.20,354.46" fill="none" stroke="#c62828" stroke-width="1.35" stroke-opacity="1" stroke-linejoin="round"/><rect x="380" y="238.6" width="62.20" height="151.80" fill="none" stroke="#bdbdbd" stroke-width="0.7"/><rect x="461.6" y="238.1" width="62.20" height="153.70" fill="#fff" stroke="none"/><path d="M461.60,238.10V391.80M467.25,238.10V391.80M472.91,238.10V391.80M478.56,238.10V391.80M484.22,238.10V391.80M489.87,238.10V391.80M495.53,238.10V391.80M501.18,238.10V391.80M506.84,238.10V391.80M512.49,238.10V391.80M518.15,238.10V391.80M523.80,238.10V391.80M461.60,387.70H523.80M461.60,369.36H523.80M461.60,351.02H523.80M461.60,332.69H523.80M461.60,314.35H523.80M461.60,296.01H523.80M461.60,277.68H523.80M461.60,259.34H523.80M461.60,241.00H523.80" stroke="#e2e2e2" stroke-width="0.5" fill="none"/><text x="461.60" y="397.00" font-family="Liberation Sans, sans-serif" font-size="3.6" font-weight="bold" text-anchor="middle" fill="#000">-6</text><text x="467.25" y="397.00" font-family="Liberation Sans, sans-serif" font-size="3.6" font-weight="bold" text-anchor="middle" fill="#000">-5</text><text x="472.91" y="397.00" font-family="Liberation Sans, sans-serif" font-size="3.6" font-weight="bold" text-anchor="middle" fill="#000">-4</text><text x="478.56" y="397.00" font-family="Liberation Sans, sans-serif" font-size="3.6" font-weight="bold" text-anchor="middle" fill="#000">-3</text><text x="484.22" y="397.00" font-family="Liberation Sans, sans-serif" font-size="3.6" font-weight="bold" text-anchor="middle" fill="#000">-2</text><text x="489.87" y="397.00" font-family="Liberation Sans, sans-serif" font-size="3.6" font-weight="bold" text-anchor="middle" fill="#000">-1</text><text x="495.53" y="397.00" font-family="Liberation Sans, sans-serif" font-size="3.6" font-weight="bold" text-anchor="middle" fill="#000">0</text><text x="501.18" y="397.00" font-family="Liberation Sans, sans-serif" font-size="3.6" font-weight="bold" text-anchor="middle" fill="#000">1</text><text x="506.84" y="397.00" font-family="Liberation Sans, sans-serif" font-size="3.6" font-weight="bold" text-anchor="middle" fill="#000">2</text><text x="512.49" y="397.00" font-family="Liberation Sans, sans-serif" font-size="3.6" font-weight="bold" text-anchor="middle" fill="#000">3</text><text x="518.15" y="397.00" font-family="Liberation Sans, sans-serif" font-size="3.6" font-weight="bold" text-anchor="middle" fill="#000">4</text><text x="523.80" y="397.00" font-family="Liberation Sans, sans-serif" font-size="3.6" font-weight="bold" text-anchor="middle" fill="#000">5</text><text x="460.70" y="389.00" font-family="Liberation Sans, sans-serif" font-size="3.6" font-weight="bold" text-anchor="end" fill="#000">87.5</text><text x="460.70" y="370.66" font-family="Liberation Sans, sans-serif" font-size="3.6" font-weight="bold" text-anchor="end" fill="#000">90</text><text x="460.70" y="352.32" font-family="Liberation Sans, sans-serif" font-size="3.6" font-weight="bold" text-anchor="end" fill="#000">92.5</text><text x="460.70" y="333.98" font-family="Liberation Sans, sans-serif" font-size="3.6" font-weight="bold" text-anchor="end" fill="#000">95</text><text x="460.70" y="315.65" font-family="Liberation Sans, sans-serif" font-size="3.6" font-weight="bold" text-anchor="end" fill="#000">97.5</text><text x="460.70" y="297.31" font-family="Liberation Sans, sans-serif" font-size="3.6" font-weight="bold" text-anchor="end" fill="#000">100</text><text x="460.70" y="278.97" font-family="Liberation Sans, sans-serif" font-size="3.6" font-weight="bold" text-anchor="end" fill="#000">102.5</text><text x="460.70" y="260.63" font-family="Liberation Sans, sans-serif" font-size="3.6" font-weight="bold" text-anchor="end" fill="#000">105</text><text x="460.70" y="242.30" font-family="Liberation Sans, sans-serif" font-size="3.6" font-weight="bold" text-anchor="end" fill="#000">107.5</text><text x="493.90" y="236.80" font-family="Liberation Sans, sans-serif" font-size="3.65" font-weight="bold" text-anchor="middle" fill="#111">precentralgyrus</text><text transform="translate(452.00,310.15) rotate(-90)" x="0" y="0" font-family="Liberation Sans, sans-serif" font-size="3.2" font-weight="bold" text-anchor="middle" fill="#222">percent volume relative to diagnosis</text><path d="M472.9,284.3 L481.4,281.2 L484.2,278.5 L492.7,297.8 L498.4,292.9 L506.8,289.4 L515.3,313.9 L521.0,304.1M484.2,291.5 L487.0,303.1 L492.7,294.2 L498.4,306.0 L501.2,293.8 L509.7,302.1M478.6,306.2 L484.2,286.2 L487.0,284.7 L492.7,293.1 L498.4,293.4 L504.0,310.3 L512.5,291.4 L521.0,304.6M472.9,265.5 L478.6,301.3 L484.2,272.2 L492.7,297.5 L495.5,297.2M478.6,285.6 L481.4,284.8 L487.0,286.1 L489.9,294.3 L492.7,281.4 L495.5,305.8 L501.2,308.1 L509.7,314.5M472.9,269.0 L475.7,276.9 L481.4,281.7 L487.0,292.3 L489.9,287.0 L495.5,303.2M478.6,265.9 L487.0,273.7 L495.5,284.2 L501.2,307.0 L506.8,291.8 L512.5,302.3 L518.1,295.2M489.9,281.3 L495.5,294.7 L498.4,300.8 L504.0,302.1M478.6,303.3 L481.4,298.9 L487.0,292.0 L495.5,287.9M472.9,273.9 L478.6,286.6 L481.4,283.9 L489.9,293.0 L495.5,297.9 L501.2,294.3 L506.8,307.5M472.9,261.2 L478.6,270.4 L481.4,297.7 L487.0,286.9 L495.5,301.2 L501.2,301.0 L504.0,288.3M489.9,291.3 L492.7,300.9 L501.2,301.6M478.6,282.8 L484.2,291.7 L487.0,281.8 L492.7,293.9 L501.2,295.9M467.3,276.7 L475.7,296.2 L481.4,301.0 L484.2,292.3 L492.7,290.4M484.2,283.4 L489.9,290.4 L492.7,293.2 L498.4,301.5 L501.2,296.3M489.9,295.8 L498.4,293.7M467.3,278.4 L470.1,279.4 L475.7,291.0 L481.4,286.9 L484.2,302.9 L489.9,294.0 L492.7,295.1 L501.2,306.3M472.9,274.7 L475.7,294.2 L478.6,278.0 L481.4,285.1 L484.2,297.8 L489.9,293.5 L495.5,289.5M467.3,278.5 L472.9,277.8 L478.6,280.8 L481.4,290.8 L487.0,292.6 L495.5,301.4 L498.4,305.0 L506.8,300.5M478.6,292.6 L481.4,291.6 L489.9,285.3 L492.7,293.5 L498.4,302.7 L501.2,292.9 L509.7,307.3M484.2,289.7 L492.7,303.3 L501.2,289.6 L504.0,292.1 L509.7,291.5 L512.5,290.1M478.6,274.2 L481.4,286.3 L484.2,277.2 L489.9,298.8 L498.4,299.3M461.6,272.6 L464.4,274.9 L470.1,281.7 L478.6,284.6 L484.2,286.5 L489.9,303.5 L495.5,292.8 L501.2,302.2 L506.8,293.0 L515.3,302.9M467.3,267.9 L475.7,276.9 L484.2,296.3 L489.9,286.6 L495.5,289.8 L501.2,286.0 L509.7,289.2M467.3,281.6 L475.7,290.1 L481.4,275.7 L489.9,298.8 L495.5,302.9 L504.0,309.3M467.3,273.2 L472.9,283.2 L478.6,284.1 L484.2,284.1 L489.9,292.5 L495.5,300.0 L504.0,298.9M461.6,246.1 L464.4,263.9 L470.1,264.4 L472.9,255.0 L478.6,279.4 L484.2,281.8 L492.7,296.6 L495.5,291.5 L498.4,299.2 L504.0,294.2 L506.8,292.4 L509.7,283.6M472.9,261.5 L475.7,276.5 L481.4,272.5 L484.2,280.2 L489.9,279.9 L495.5,291.5M478.6,272.1 L484.2,268.8 L489.9,279.6 L495.5,295.7 L501.2,304.9 L504.0,299.7 L512.5,323.0M484.2,283.7 L492.7,292.1 L498.4,304.0 L504.0,307.6M478.6,275.6 L484.2,281.3 L492.7,299.3 L498.4,293.1M461.6,277.0 L470.1,291.8 L478.6,285.6 L484.2,295.7 L489.9,303.5 L492.7,284.3 L498.4,302.0M478.6,282.7 L487.0,288.3 L492.7,296.4 L495.5,290.3 L498.4,289.7 L506.8,300.5 L512.5,317.6M478.6,290.4 L484.2,292.2 L489.9,297.3 L495.5,297.3 L501.2,292.7M478.6,280.9 L484.2,291.7 L489.9,292.4 L498.4,298.8 L504.0,302.8 L506.8,306.9 L509.7,304.8 L512.5,296.8M467.3,277.9 L475.7,272.7 L481.4,268.6 L484.2,301.5 L489.9,297.7 L495.5,299.1 L498.4,296.2 L501.2,301.1 L504.0,294.4" fill="none" stroke="#1a1a1a" stroke-width="0.45" stroke-linejoin="round"/><path d="M501.18,303.35 L506.84,310.68 L512.49,321.69 L518.15,336.36 L523.80,387.70" fill="none" stroke="#1a1a1a" stroke-width="0.45" stroke-opacity="1" stroke-linejoin="round"/><path d="M495.53,296.01 L501.18,318.02 L506.84,345.89" fill="none" stroke="#1a1a1a" stroke-width="0.45" stroke-opacity="1" stroke-linejoin="round"/><path d="M461.60,248.34 L467.25,252.00 L472.91,266.67 L478.56,270.34 L484.22,281.34" fill="none" stroke="#1a1a1a" stroke-width="0.45" stroke-opacity="1" stroke-linejoin="round"/><path d="M461.60,263.01 L464.43,264.82 L467.25,266.81 L470.08,268.96 L472.91,271.27 L475.74,273.76 L478.56,276.41 L481.39,279.23 L484.22,282.21 L487.05,285.36 L489.87,288.68 L492.70,292.16 L495.53,295.81 L498.35,299.63 L501.18,303.61 L504.01,307.77 L506.84,312.08 L509.66,316.57 L512.49,321.22 L515.32,326.04 L518.15,331.02 L520.97,336.17 L523.80,341.49" fill="none" stroke="#952020" stroke-width="2.1" stroke-opacity="1" stroke-linejoin="round"/><path d="M461.60,263.01 L464.43,264.82 L467.25,266.81 L470.08,268.96 L472.91,271.27 L475.74,273.76 L478.56,276.41 L481.39,279.23 L484.22,282.21 L487.05,285.36 L489.87,288.68 L492.70,292.16 L495.53,295.81 L498.35,299.63 L501.18,303.61 L504.01,307.77 L506.84,312.08 L509.66,316.57 L512.49,321.22 L515.32,326.04 L518.15,331.02 L520.97,336.17 L523.80,341.49" fill="none" stroke="#c62828" stroke-width="1.35" stroke-opacity="1" stroke-linejoin="round"/><rect x="461.6" y="238.1" width="62.20" height="153.70" fill="none" stroke="#bdbdbd" stroke-width="0.7"/><rect x="543.5" y="239.2" width="62.00" height="154.00" fill="#fff" stroke="none"/><path d="M543.50,239.20V393.20M549.14,239.20V393.20M554.77,239.20V393.20M560.41,239.20V393.20M566.05,239.20V393.20M571.68,239.20V393.20M577.32,239.20V393.20M582.95,239.20V393.20M588.59,239.20V393.20M594.23,239.20V393.20M599.86,239.20V393.20M605.50,239.20V393.20M543.50,380.80H605.50M543.50,363.94H605.50M543.50,347.08H605.50M543.50,330.21H605.50M543.50,313.35H605.50M543.50,296.49H605.50M543.50,279.62H605.50M543.50,262.76H605.50M543.50,245.90H605.50" stroke="#e2e2e2" stroke-width="0.5" fill="none"/><text x="543.50" y="398.40" font-family="Liberation Sans, sans-serif" font-size="3.6" font-weight="bold" text-anchor="middle" fill="#000">-6</text><text x="549.14" y="398.40" font-family="Liberation Sans, sans-serif" font-size="3.6" font-weight="bold" text-anchor="middle" fill="#000">-5</text><text x="554.77" y="398.40" font-family="Liberation Sans, sans-serif" font-size="3.6" font-weight="bold" text-anchor="middle" fill="#000">-4</text><text x="560.41" y="398.40" font-family="Liberation Sans, sans-serif" font-size="3.6" font-weight="bold" text-anchor="middle" fill="#000">-3</text><text x="566.05" y="398.40" font-family="Liberation Sans, sans-serif" font-size="3.6" font-weight="bold" text-anchor="middle" fill="#000">-2</text><text x="571.68" y="398.40" font-family="Liberation Sans, sans-serif" font-size="3.6" font-weight="bold" text-anchor="middle" fill="#000">-1</text><text x="577.32" y="398.40" font-family="Liberation Sans, sans-serif" font-size="3.6" font-weight="bold" text-anchor="middle" fill="#000">0</text><text x="582.95" y="398.40" font-family="Liberation Sans, sans-serif" font-size="3.6" font-weight="bold" text-anchor="middle" fill="#000">1</text><text x="588.59" y="398.40" font-family="Liberation Sans, sans-serif" font-size="3.6" font-weight="bold" text-anchor="middle" fill="#000">2</text><text x="594.23" y="398.40" font-family="Liberation Sans, sans-serif" font-size="3.6" font-weight="bold" text-anchor="middle" fill="#000">3</text><text x="599.86" y="398.40" font-family="Liberation Sans, sans-serif" font-size="3.6" font-weight="bold" text-anchor="middle" fill="#000">4</text><text x="605.50" y="398.40" font-family="Liberation Sans, sans-serif" font-size="3.6" font-weight="bold" text-anchor="middle" fill="#000">5</text><text x="542.60" y="382.10" font-family="Liberation Sans, sans-serif" font-size="3.6" font-weight="bold" text-anchor="end" fill="#000">87.5</text><text x="542.60" y="365.23" font-family="Liberation Sans, sans-serif" font-size="3.6" font-weight="bold" text-anchor="end" fill="#000">90</text><text x="542.60" y="348.37" font-family="Liberation Sans, sans-serif" font-size="3.6" font-weight="bold" text-anchor="end" fill="#000">92.5</text><text x="542.60" y="331.51" font-family="Liberation Sans, sans-serif" font-size="3.6" font-weight="bold" text-anchor="end" fill="#000">95</text><text x="542.60" y="314.65" font-family="Liberation Sans, sans-serif" font-size="3.6" font-weight="bold" text-anchor="end" fill="#000">97.5</text><text x="542.60" y="297.78" font-family="Liberation Sans, sans-serif" font-size="3.6" font-weight="bold" text-anchor="end" fill="#000">100</text><text x="542.60" y="280.92" font-family="Liberation Sans, sans-serif" font-size="3.6" font-weight="bold" text-anchor="end" fill="#000">102.5</text><text x="542.60" y="264.06" font-family="Liberation Sans, sans-serif" font-size="3.6" font-weight="bold" text-anchor="end" fill="#000">105</text><text x="542.60" y="247.20" font-family="Liberation Sans, sans-serif" font-size="3.6" font-weight="bold" text-anchor="end" fill="#000">107.5</text><text x="575.70" y="237.90" font-family="Liberation Sans, sans-serif" font-size="3.65" font-weight="bold" text-anchor="middle" fill="#111">postcentralgyrus</text><text transform="translate(533.90,311.40) rotate(-90)" x="0" y="0" font-family="Liberation Sans, sans-serif" font-size="3.2" font-weight="bold" text-anchor="middle" fill="#222">percent volume relative to diagnosis</text><path d="M560.4,280.4 L566.0,284.6 L574.5,283.5 L577.3,302.5 L583.0,307.0 L588.6,305.7 L591.4,308.2 L594.2,293.0M554.8,299.0 L560.4,300.5 L563.2,289.9 L568.9,299.6 L577.3,296.5 L583.0,295.1 L585.8,290.4M554.8,296.6 L560.4,288.8 L566.0,301.0 L571.7,301.3 L577.3,300.7 L583.0,305.4 L585.8,291.9 L588.6,296.8 L594.2,307.8 L602.7,325.0M543.5,265.3 L549.1,273.9 L554.8,280.0 L560.4,288.3 L568.9,284.7 L574.5,291.2 L577.3,298.2 L583.0,299.3 L588.6,290.3 L591.4,301.8M543.5,255.3 L549.1,259.7 L554.8,270.9 L560.4,269.0 L563.2,291.3 L568.9,297.7 L574.5,303.0 L580.1,297.9 L585.8,291.7M560.4,296.3 L566.0,281.9 L574.5,279.5 L580.1,287.0M549.1,269.8 L552.0,274.4 L560.4,284.5 L563.2,282.0 L566.0,282.3 L571.7,295.6 L577.3,301.5 L583.0,300.2 L588.6,298.4 L594.2,308.1 L599.9,310.3 L602.7,323.2 L605.5,318.7M554.8,285.6 L560.4,277.4 L568.9,289.4 L571.7,288.2 L574.5,296.2 L580.1,303.2M554.8,289.3 L560.4,291.6 L566.0,304.4 L574.5,293.5 L580.1,284.7 L585.8,281.6 L588.6,304.4M543.5,292.2 L549.1,297.4 L552.0,288.3 L557.6,303.1 L566.0,302.8 L571.7,295.0 L577.3,295.1 L583.0,302.3 L585.8,302.5 L591.4,303.2M549.1,295.4 L557.6,299.1 L563.2,288.3 L566.0,298.6 L568.9,296.4 L577.3,299.6 L583.0,301.3M543.5,263.4 L549.1,265.7 L557.6,278.4 L563.2,290.5 L568.9,279.6 L574.5,292.7 L580.1,288.9 L583.0,283.5 L588.6,290.0M560.4,307.6 L566.0,308.1 L571.7,307.2 L577.3,290.8 L583.0,296.1M554.8,282.2 L557.6,281.6 L563.2,286.4 L566.0,295.3 L574.5,296.5 L580.1,304.7 L585.8,298.4 L591.4,304.6 L594.2,288.6 L597.0,302.3M566.0,297.4 L574.5,300.8 L580.1,301.9 L588.6,306.6 L594.2,294.5M571.7,294.1 L577.3,280.9M543.5,301.5 L549.1,280.8 L554.8,294.6 L560.4,297.5 L563.2,299.7 L566.0,298.8 L571.7,289.3 L577.3,312.1 L583.0,304.6M543.5,300.2 L549.1,301.3 L557.6,306.3 L563.2,290.2 L571.7,304.7 L577.3,288.1 L583.0,307.2M566.0,281.1 L571.7,295.6 L577.3,298.0 L580.1,291.2 L585.8,297.7 L594.2,298.0M560.4,285.2 L566.0,292.8 L571.7,300.0 L574.5,299.5 L580.1,307.4 L585.8,299.5 L594.2,303.8 L599.9,311.0 L602.7,313.5M571.7,277.0 L580.1,298.0 L585.8,291.0 L588.6,295.5 L591.4,285.1 L594.2,303.6 L599.9,289.9M549.1,279.7 L552.0,297.4 L560.4,294.7 L568.9,295.1 L574.5,300.0 L580.1,297.1 L585.8,304.8 L591.4,299.7M554.8,287.2 L560.4,281.3 L563.2,290.5 L568.9,281.9 L574.5,292.1 L583.0,296.8 L585.8,298.5 L591.4,293.0M560.4,273.5 L568.9,299.1 L574.5,286.5 L580.1,290.9 L585.8,285.8M549.1,289.1 L557.6,281.3 L563.2,297.8 L568.9,297.0 L571.7,298.3 L577.3,285.5 L580.1,307.4 L588.6,308.9M543.5,286.8 L552.0,303.2 L557.6,297.5 L560.4,294.3 L568.9,293.3 L574.5,297.4 L583.0,303.5 L585.8,297.9 L591.4,304.0M543.5,298.5 L549.1,294.5 L554.8,286.7 L560.4,302.7 L566.0,300.5 L571.7,301.3 L577.3,298.9M554.8,292.9 L560.4,295.9 L566.0,290.5 L571.7,290.7 L577.3,298.7 L583.0,303.8 L588.6,294.4M554.8,287.4 L560.4,272.5 L568.9,291.6 L574.5,297.8 L583.0,297.2 L588.6,303.1 L594.2,304.1 L597.0,317.5 L602.7,308.3M543.5,264.0 L549.1,272.3 L554.8,266.8 L557.6,289.1 L560.4,298.7 L566.0,288.1 L574.5,298.5 L580.1,305.7M549.1,299.6 L554.8,290.4 L560.4,292.8 L563.2,296.4 L568.9,299.6 L571.7,288.6 L577.3,306.4 L583.0,302.6M543.5,276.7 L549.1,273.3 L554.8,276.3 L560.4,288.2 L568.9,292.3 L574.5,300.7 L577.3,290.9M566.0,282.8 L571.7,290.9 L577.3,289.2 L580.1,301.0 L585.8,297.1M560.4,291.5 L566.0,275.0 L571.7,290.6 L574.5,294.4 L580.1,313.1 L585.8,296.5M549.1,262.5 L552.0,265.3 L560.4,269.8 L566.0,293.2 L568.9,293.7 L574.5,304.6 L580.1,294.0 L588.6,301.0 L594.2,308.3 L599.9,319.2M566.0,283.5 L571.7,291.5 L580.1,291.9 L583.0,305.7 L588.6,304.2 L594.2,308.8 L602.7,309.3" fill="none" stroke="#1a1a1a" stroke-width="0.45" stroke-linejoin="round"/><path d="M582.95,303.23 L588.59,309.98 L594.23,316.72 L599.86,330.21 L605.50,387.55" fill="none" stroke="#1a1a1a" stroke-width="0.45" stroke-opacity="1" stroke-linejoin="round"/><path d="M577.32,296.49 L582.95,313.35 L588.59,333.59" fill="none" stroke="#1a1a1a" stroke-width="0.45" stroke-opacity="1" stroke-linejoin="round"/><path d="M543.50,247.25 L549.14,253.99 L554.77,260.06 L560.41,269.51 L566.05,283.00" fill="none" stroke="#1a1a1a" stroke-width="0.45" stroke-opacity="1" stroke-linejoin="round"/><path d="M543.50,270.38 L546.32,271.51 L549.14,272.81 L551.95,274.29 L554.77,275.93 L557.59,277.75 L560.41,279.74 L563.23,281.90 L566.05,284.23 L568.86,286.73 L571.68,289.41 L574.50,292.26 L577.32,295.28 L580.14,298.47 L582.95,301.83 L585.77,305.37 L588.59,309.08 L591.41,312.96 L594.23,317.01 L597.05,321.23 L599.86,325.63 L602.68,330.19 L605.50,334.93" fill="none" stroke="#952020" stroke-width="2.1" stroke-opacity="1" stroke-linejoin="round"/><path d="M543.50,270.38 L546.32,271.51 L549.14,272.81 L551.95,274.29 L554.77,275.93 L557.59,277.75 L560.41,279.74 L563.23,281.90 L566.05,284.23 L568.86,286.73 L571.68,289.41 L574.50,292.26 L577.32,295.28 L580.14,298.47 L582.95,301.83 L585.77,305.37 L588.59,309.08 L591.41,312.96 L594.23,317.01 L597.05,321.23 L599.86,325.63 L602.68,330.19 L605.50,334.93" fill="none" stroke="#c62828" stroke-width="1.35" stroke-opacity="1" stroke-linejoin="round"/><rect x="543.5" y="239.2" width="62.00" height="154.00" fill="none" stroke="#bdbdbd" stroke-width="0.7"/><rect x="627.3" y="239.5" width="61.90" height="153.70" fill="#fff" stroke="none"/><path d="M627.30,239.50V393.20M632.93,239.50V393.20M638.55,239.50V393.20M644.18,239.50V393.20M649.81,239.50V393.20M655.44,239.50V393.20M661.06,239.50V393.20M666.69,239.50V393.20M672.32,239.50V393.20M677.95,239.50V393.20M683.57,239.50V393.20M689.20,239.50V393.20M627.30,363.60H689.20M627.30,321.80H689.20M627.30,280.00H689.20" stroke="#e2e2e2" stroke-width="0.5" fill="none"/><text x="627.30" y="398.40" font-family="Liberation Sans, sans-serif" font-size="3.6" font-weight="bold" text-anchor="middle" fill="#000">-6</text><text x="632.93" y="398.40" font-family="Liberation Sans, sans-serif" font-size="3.6" font-weight="bold" text-anchor="middle" fill="#000">-5</text><text x="638.55" y="398.40" font-family="Liberation Sans, sans-serif" font-size="3.6" font-weight="bold" text-anchor="middle" fill="#000">-4</text><text x="644.18" y="398.40" font-family="Liberation Sans, sans-serif" font-size="3.6" font-weight="bold" text-anchor="middle" fill="#000">-3</text><text x="649.81" y="398.40" font-family="Liberation Sans, sans-serif" font-size="3.6" font-weight="bold" text-anchor="middle" fill="#000">-2</text><text x="655.44" y="398.40" font-family="Liberation Sans, sans-serif" font-size="3.6" font-weight="bold" text-anchor="middle" fill="#000">-1</text><text x="661.06" y="398.40" font-family="Liberation Sans, sans-serif" font-size="3.6" font-weight="bold" text-anchor="middle" fill="#000">0</text><text x="666.69" y="398.40" font-family="Liberation Sans, sans-serif" font-size="3.6" font-weight="bold" text-anchor="middle" fill="#000">1</text><text x="672.32" y="398.40" font-family="Liberation Sans, sans-serif" font-size="3.6" font-weight="bold" text-anchor="middle" fill="#000">2</text><text x="677.95" y="398.40" font-family="Liberation Sans, sans-serif" font-size="3.6" font-weight="bold" text-anchor="middle" fill="#000">3</text><text x="683.57" y="398.40" font-family="Liberation Sans, sans-serif" font-size="3.6" font-weight="bold" text-anchor="middle" fill="#000">4</text><text x="689.20" y="398.40" font-family="Liberation Sans, sans-serif" font-size="3.6" font-weight="bold" text-anchor="middle" fill="#000">5</text><text x="626.40" y="364.90" font-family="Liberation Sans, sans-serif" font-size="3.6" font-weight="bold" text-anchor="end" fill="#000">97.5</text><text x="626.40" y="323.10" font-family="Liberation Sans, sans-serif" font-size="3.6" font-weight="bold" text-anchor="end" fill="#000">100</text><text x="626.40" y="281.30" font-family="Liberation Sans, sans-serif" font-size="3.6" font-weight="bold" text-anchor="end" fill="#000">102.5</text><text x="659.45" y="238.20" font-family="Liberation Sans, sans-serif" font-size="4.45" font-weight="bold" text-anchor="middle" fill="#111">entorhinalarea</text><text transform="translate(617.70,311.55) rotate(-90)" x="0" y="0" font-family="Liberation Sans, sans-serif" font-size="3.2" font-weight="bold" text-anchor="middle" fill="#222">percent volume relative to diagnosis</text><path d="M649.8,307.7 L655.4,337.3 L658.2,316.3M627.3,329.7 L632.9,317.4 L638.6,324.1 L644.2,306.8 L649.8,333.3 L652.6,312.5 L658.2,309.8 L663.9,300.3 L669.5,328.2 L675.1,326.0 L680.8,339.0 L686.4,344.7M632.9,285.7 L638.6,286.6 L644.2,302.8 L649.8,301.1 L658.2,315.0 L666.7,302.5 L672.3,318.1 L675.1,325.6M644.2,299.0 L647.0,320.7 L652.6,292.8 L658.2,300.9 L663.9,322.7M627.3,330.5 L630.1,331.1 L635.7,287.5 L641.4,326.7 L649.8,326.5 L655.4,308.5 L658.2,338.0 L663.9,336.8M627.3,287.4 L632.9,272.4 L638.6,296.0 L641.4,278.7 L647.0,307.8 L649.8,316.7 L655.4,316.4 L661.1,331.7 L666.7,321.3M632.9,314.3 L638.6,306.1 L644.2,325.9 L649.8,292.4 L652.6,309.2 L658.2,324.6 L666.7,319.1 L672.3,344.2 L675.1,347.2 L680.8,342.4 L686.4,337.8M655.4,302.9 L661.1,323.7 L666.7,330.2M649.8,322.7 L655.4,317.9 L661.1,327.2 L666.7,343.7M638.6,306.9 L641.4,306.8 L647.0,322.7 L652.6,318.8 L658.2,287.0 L663.9,331.0 L666.7,334.5 L672.3,330.7 L677.9,325.0 L683.6,326.0 L689.2,309.5M644.2,300.7 L649.8,315.3 L655.4,303.3 L663.9,328.0 L669.5,325.4M644.2,296.8 L652.6,311.6 L658.2,334.5 L663.9,340.0M632.9,332.7 L638.6,324.4 L644.2,325.0 L647.0,287.6 L652.6,323.6 L655.4,316.7 L661.1,325.4 L666.7,328.8 L672.3,335.0 L677.9,357.8 L686.4,347.1M627.3,298.1 L632.9,290.2 L635.7,303.7 L638.6,314.4 L647.0,312.6 L655.4,320.0 L663.9,329.5 L669.5,307.2M649.8,321.4 L655.4,316.9 L663.9,329.5 L669.5,320.6M627.3,270.1 L635.7,282.4 L644.2,291.4 L652.6,299.1 L658.2,347.4 L663.9,307.9 L669.5,339.8 L675.1,319.1M638.6,314.4 L644.2,313.9 L649.8,312.2 L652.6,321.8 L655.4,335.9 L661.1,347.0 L666.7,321.3 L672.3,331.6 L675.1,350.9M632.9,326.9 L638.6,316.9 L644.2,341.5 L649.8,361.1 L658.2,320.7 L666.7,303.9 L669.5,339.1 L675.1,327.0M627.3,298.0 L632.9,325.8 L641.4,301.1 L647.0,308.9 L652.6,317.3 L655.4,308.9 L658.2,330.5 L663.9,320.0 L672.3,335.5 L677.9,310.0M632.9,320.3 L638.6,304.6 L641.4,312.3 L647.0,327.0 L652.6,324.5 L658.2,311.6 L666.7,310.9 L672.3,306.5M627.3,312.6 L632.9,303.3 L635.7,331.8 L641.4,320.6 L647.0,348.9 L652.6,297.5 L658.2,314.0 L666.7,339.3 L672.3,344.6M632.9,309.5 L635.7,298.9 L644.2,316.0 L649.8,305.7 L652.6,323.4 L655.4,306.0 L661.1,317.3 L666.7,330.0 L669.5,333.8 L675.1,316.8 L680.8,324.7 L683.6,341.3 L689.2,343.1M649.8,318.6 L655.4,318.3 L661.1,307.0 L666.7,326.6 L672.3,319.7 L677.9,328.7 L683.6,312.8 L686.4,318.3 L689.2,318.9M644.2,334.0 L649.8,314.9 L652.6,322.0 L658.2,324.9 L661.1,305.5 L666.7,347.9 L672.3,328.0M655.4,327.0 L661.1,316.8 L669.5,340.5 L675.1,335.8M644.2,328.7 L652.6,283.8 L658.2,312.8 L663.9,326.0 L666.7,318.6 L672.3,320.9M644.2,315.0 L649.8,306.8 L655.4,331.0 L661.1,327.0 L666.7,325.4 L672.3,310.0 L677.9,325.8M632.9,311.9 L635.7,314.3 L641.4,303.9 L644.2,320.1 L647.0,322.2 L652.6,330.1 L655.4,317.3 L661.1,331.9 L666.7,329.9 L672.3,343.2M655.4,304.2 L661.1,331.5 L666.7,332.7 L672.3,323.0 L677.9,325.3M644.2,333.3 L647.0,337.9 L652.6,320.9 L658.2,308.3 L666.7,319.4M627.3,285.7 L632.9,308.9 L635.7,309.8 L641.4,322.5 L647.0,310.6 L652.6,319.1 L658.2,321.0 L661.1,318.2 L666.7,323.2 L672.3,324.0M638.6,282.9 L644.2,296.8 L652.6,301.3 L661.1,313.2 L663.9,335.8M632.9,307.4 L638.6,322.8 L644.2,338.4 L652.6,311.1 L655.4,313.0 L661.1,317.5M627.3,316.5 L635.7,315.7 L641.4,321.5 L647.0,308.3 L652.6,315.9 L658.2,317.2 L663.9,326.5 L669.5,326.8 L675.1,345.4M627.3,312.3 L632.9,320.4 L641.4,311.7 L647.0,313.5 L652.6,320.1 L658.2,303.3 L661.1,303.5M632.9,277.8 L638.6,274.6 L647.0,325.7 L649.8,305.8 L655.4,302.2 L661.1,322.7 L669.5,330.8M627.3,331.0 L632.9,324.9 L638.6,322.1 L644.2,335.3 L647.0,329.1 L652.6,311.3 L658.2,327.9 L661.1,325.9 L666.7,352.9M644.2,305.6 L649.8,303.8 L658.2,318.5M644.2,311.0 L649.8,306.7 L655.4,329.0 L661.1,326.0 L666.7,326.3 L669.5,313.5 L677.9,330.3M627.3,323.8 L632.9,339.4 L638.6,311.6 L644.2,317.4 L649.8,341.4 L655.4,311.5 L661.1,334.2 L666.7,327.1M644.2,321.1 L649.8,325.0 L658.2,335.3M644.2,292.2 L652.6,320.1 L655.4,339.5 L661.1,326.6 L669.5,306.0 L675.1,326.0M638.6,319.9 L644.2,317.0 L649.8,310.3 L655.4,317.4 L658.2,314.5 L663.9,324.7 L669.5,342.4 L677.9,366.7 L686.4,370.6 L689.2,367.3M649.8,312.0 L655.4,316.0 L661.1,314.4 L666.7,304.7 L675.1,321.9M632.9,307.6 L638.6,323.6 L647.0,299.3 L649.8,314.2 L655.4,325.1 L661.1,321.1M649.8,314.5 L655.4,318.6 L663.9,309.3 L669.5,327.5 L677.9,318.0M627.3,302.1 L632.9,299.2 L638.6,293.1 L644.2,289.9 L647.0,295.0 L655.4,311.0 L658.2,328.4 L663.9,305.1 L669.5,321.2M632.9,334.2 L635.7,329.7 L638.6,314.1 L647.0,322.0 L652.6,341.6 L661.1,306.0 L663.9,330.4M632.9,298.2 L635.7,283.2 L641.4,310.9 L647.0,297.1 L649.8,297.0 L655.4,304.6 L661.1,327.3 L666.7,342.0 L669.5,360.9M638.6,290.7 L644.2,306.8 L649.8,300.5 L652.6,319.5 L658.2,322.6 L661.1,325.5 L666.7,322.2 L672.3,324.2" fill="none" stroke="#3c3c3c" stroke-width="0.45" stroke-linejoin="round"/><path d="M627.30,254.92 L632.93,249.90 L638.55,249.90 L644.18,288.36 L649.81,305.08" fill="none" stroke="#3c3c3c" stroke-width="0.45" stroke-opacity="1" stroke-linejoin="round"/><path d="M627.30,280.00 L632.93,274.98 L638.55,296.72" fill="none" stroke="#3c3c3c" stroke-width="0.45" stroke-opacity="1" stroke-linejoin="round"/><path d="M627.30,286.30 L630.11,293.20 L632.93,298.89 L635.74,303.59 L638.55,307.46 L641.37,310.66 L644.18,313.29 L647.00,315.47 L649.81,317.26 L652.62,318.74 L655.44,319.96 L658.25,320.97 L661.06,321.80 L663.88,322.49 L666.69,323.05 L669.50,323.52 L672.32,323.90 L675.13,324.22 L677.95,324.48 L680.76,324.70 L683.57,324.87 L686.39,325.02 L689.20,325.14" fill="none" stroke="#952020" stroke-width="2.1" stroke-opacity="1" stroke-linejoin="round"/><path d="M627.30,286.30 L630.11,293.20 L632.93,298.89 L635.74,303.59 L638.55,307.46 L641.37,310.66 L644.18,313.29 L647.00,315.47 L649.81,317.26 L652.62,318.74 L655.44,319.96 L658.25,320.97 L661.06,321.80 L663.88,322.49 L666.69,323.05 L669.50,323.52 L672.32,323.90 L675.13,324.22 L677.95,324.48 L680.76,324.70 L683.57,324.87 L686.39,325.02 L689.20,325.14" fill="none" stroke="#c62828" stroke-width="1.35" stroke-opacity="1" stroke-linejoin="round"/><rect x="627.3" y="239.5" width="61.90" height="153.70" fill="none" stroke="#bdbdbd" stroke-width="0.7"/><rect x="115.4" y="262.1" width="57.80" height="132.90" fill="#fff" stroke="none"/><path d="M117.21,262.10V395.00M121.72,262.10V395.00M126.24,262.10V395.00M130.75,262.10V395.00M135.27,262.10V395.00M139.78,262.10V395.00M144.30,262.10V395.00M148.82,262.10V395.00M153.33,262.10V395.00M157.85,262.10V395.00M162.36,262.10V395.00M166.88,262.10V395.00M171.39,262.10V395.00M115.40,389.70H173.20M115.40,372.80H173.20M115.40,355.90H173.20M115.40,339.00H173.20M115.40,322.10H173.20M115.40,305.20H173.20M115.40,288.30H173.20M115.40,271.40H173.20" stroke="#e2e2e2" stroke-width="0.5" fill="none"/><text x="117.21" y="400.60" font-family="Liberation Sans, sans-serif" font-size="4.0" font-weight="bold" text-anchor="middle" fill="#000">-6</text><text x="121.72" y="400.60" font-family="Liberation Sans, sans-serif" font-size="4.0" font-weight="bold" text-anchor="middle" fill="#000">-5</text><text x="126.24" y="400.60" font-family="Liberation Sans, sans-serif" font-size="4.0" font-weight="bold" text-anchor="middle" fill="#000">-4</text><text x="130.75" y="400.60" font-family="Liberation Sans, sans-serif" font-size="4.0" font-weight="bold" text-anchor="middle" fill="#000">-3</text><text x="135.27" y="400.60" font-family="Liberation Sans, sans-serif" font-size="4.0" font-weight="bold" text-anchor="middle" fill="#000">-2</text><text x="139.78" y="400.60" font-family="Liberation Sans, sans-serif" font-size="4.0" font-weight="bold" text-anchor="middle" fill="#000">-1</text><text x="144.30" y="400.60" font-family="Liberation Sans, sans-serif" font-size="4.0" font-weight="bold" text-anchor="middle" fill="#000">0</text><text x="148.82" y="400.60" font-family="Liberation Sans, sans-serif" font-size="4.0" font-weight="bold" text-anchor="middle" fill="#000">1</text><text x="153.33" y="400.60" font-family="Liberation Sans, sans-serif" font-size="4.0" font-weight="bold" text-anchor="middle" fill="#000">2</text><text x="157.85" y="400.60" font-family="Liberation Sans, sans-serif" font-size="4.0" font-weight="bold" text-anchor="middle" fill="#000">3</text><text x="162.36" y="400.60" font-family="Liberation Sans, sans-serif" font-size="4.0" font-weight="bold" text-anchor="middle" fill="#000">4</text><text x="166.88" y="400.60" font-family="Liberation Sans, sans-serif" font-size="4.0" font-weight="bold" text-anchor="middle" fill="#000">5</text><text x="171.39" y="400.60" font-family="Liberation Sans, sans-serif" font-size="4.0" font-weight="bold" text-anchor="middle" fill="#000">6</text><text x="114.50" y="391.32" font-family="Liberation Sans, sans-serif" font-size="4.5" font-weight="bold" text-anchor="end" fill="#000">0</text><text x="114.50" y="374.42" font-family="Liberation Sans, sans-serif" font-size="4.5" font-weight="bold" text-anchor="end" fill="#000">5</text><text x="114.50" y="357.52" font-family="Liberation Sans, sans-serif" font-size="4.5" font-weight="bold" text-anchor="end" fill="#000">10</text><text x="114.50" y="340.62" font-family="Liberation Sans, sans-serif" font-size="4.5" font-weight="bold" text-anchor="end" fill="#000">15</text><text x="114.50" y="323.72" font-family="Liberation Sans, sans-serif" font-size="4.5" font-weight="bold" text-anchor="end" fill="#000">20</text><text x="114.50" y="306.82" font-family="Liberation Sans, sans-serif" font-size="4.5" font-weight="bold" text-anchor="end" fill="#000">25</text><text x="114.50" y="289.92" font-family="Liberation Sans, sans-serif" font-size="4.5" font-weight="bold" text-anchor="end" fill="#000">30</text><text x="114.50" y="273.02" font-family="Liberation Sans, sans-serif" font-size="4.5" font-weight="bold" text-anchor="end" fill="#000">35</text><text x="144.30" y="404.6" font-family="Liberation Sans, sans-serif" font-size="4.0" font-weight="bold" text-anchor="middle" fill="#111">progression time (years)</text><text transform="translate(109.0,328.8) rotate(-90)" x="0" y="0" font-family="Liberation Sans, sans-serif" font-size="3.9" font-weight="bold" text-anchor="middle" fill="#222">time</text><path d="M125.4,379.6 L130.6,367.6 L135.1,367.0 L138.0,346.5 L142.4,342.3 L148.1,285.2 L151.6,274.9M126.3,384.2 L131.8,384.8 L135.1,371.8 L139.8,356.7 L145.0,341.7 L147.7,325.3 L152.6,294.9M134.3,373.6 L139.3,371.9 L142.4,372.2 L145.7,362.6 L150.1,358.5 L154.2,336.9 L158.5,317.8M121.7,382.7 L126.1,380.5 L131.5,388.7 L135.0,383.6 L140.5,388.7 L144.2,382.0 L147.6,358.3 L153.5,361.8 L157.0,361.3 L162.0,349.8 L167.3,336.0M125.3,375.2 L130.1,372.7 L132.9,372.1 L138.5,358.2 L144.3,351.0 L149.4,338.9 L153.7,334.0M119.2,386.9 L122.1,388.7 L126.6,379.3 L129.7,369.3 L135.1,353.8 L141.0,336.0 L143.9,328.5M133.7,380.3 L137.9,383.4 L142.2,378.4 L145.0,359.5 L149.9,344.9 L154.1,333.1M123.3,374.4 L127.6,369.5 L130.4,360.7 L135.3,369.0 L140.8,351.4M121.2,388.7 L127.0,380.8 L132.6,382.5 L137.6,369.0 L141.6,377.1 L147.2,346.9 L152.3,350.2 L157.4,339.0M123.7,379.1 L127.9,378.4 L132.6,382.5 L137.3,377.7 L142.1,357.5 L145.9,372.0 L150.3,364.9 L154.2,339.4M134.7,376.0 L140.5,357.2 L145.5,347.8M125.7,379.5 L129.6,380.4 L132.6,378.8 L137.1,356.7 L141.4,352.5 L147.3,343.6 L152.0,320.8M124.6,385.6 L127.4,377.7 L131.6,377.0 L134.9,376.6 L137.8,356.9 L143.5,335.4 L148.1,290.7M124.4,388.7 L128.0,388.7 L132.9,377.1 L136.4,369.4 L139.3,357.8 L143.2,343.6 L148.8,333.6 L154.6,310.3M123.9,378.3 L128.1,387.8 L133.9,379.1 L139.6,358.8 L144.6,364.5 L149.9,306.8 L154.5,271.1M124.6,377.3 L127.5,386.5 L131.6,380.3 L136.5,375.0 L141.0,351.4 L145.0,328.5M126.4,388.7 L131.4,380.2 L136.9,368.2 L142.1,363.5 L145.7,352.5 L150.6,338.2M121.0,387.6 L124.3,382.2 L129.9,357.0 L135.4,362.6 L139.0,354.4 L143.0,346.1M117.8,388.7 L120.8,388.7 L125.5,388.7 L129.3,388.4 L133.1,379.6 L138.2,370.6 L141.3,367.0 L146.6,355.9 L149.9,341.1M122.1,374.1 L126.8,381.4 L132.7,372.3 L137.7,346.2 L143.4,330.3 L146.4,299.0M122.9,367.2 L127.2,369.9 L132.0,375.0 L135.0,357.2 L138.4,364.6 L142.0,357.6 L147.0,342.2 L150.2,333.3 L154.0,311.3M123.0,382.8 L127.5,361.1 L133.1,378.6 L137.2,363.4 L141.0,363.7 L144.9,335.2 L148.4,343.2 L152.3,327.3 L156.2,303.9M121.5,388.7 L125.9,382.7 L131.2,380.2 L136.3,373.8 L141.8,364.1 L146.2,352.0M125.8,372.7 L131.1,382.7 L134.0,388.7 L136.9,378.5 L139.9,371.4 L142.9,378.2 L147.6,343.0 L152.4,322.0M121.6,374.3 L126.7,382.9 L130.6,382.8 L135.5,355.0 L139.8,375.4 L144.7,358.1 L150.3,351.8M124.4,375.5 L129.7,372.4 L135.4,383.1 L140.1,367.7 L145.4,337.1M124.5,379.7 L130.3,373.4 L134.2,374.5 L138.3,364.8 L141.9,357.4 L145.6,349.1 L148.6,345.1 L151.9,335.9M123.7,388.3 L126.5,382.8 L129.6,372.7 L133.0,368.5 L138.0,371.7 L141.3,364.8 L144.9,348.1 L148.6,331.4M123.2,382.2 L128.8,375.1 L134.4,377.5 L140.1,360.5 L144.3,361.8 L150.0,350.3M122.0,386.1 L125.6,379.2 L131.4,378.5 L134.2,377.9 L138.4,377.0 L143.3,350.4 L148.0,343.7 L151.7,328.4 L155.2,312.2M127.2,383.6 L130.8,380.6 L135.9,374.7 L138.6,365.6 L144.0,375.3 L146.9,358.9 L149.9,339.5M129.2,370.9 L134.7,374.3 L138.3,357.6 L143.9,333.6 L146.9,304.9M124.9,388.7 L128.1,380.9 L131.8,386.7 L134.8,381.7 L139.7,366.3 L143.6,368.9 L147.5,363.6 L151.7,339.6M120.8,385.5 L124.7,384.0 L129.2,387.0 L133.4,360.0 L138.6,376.5 L142.0,379.1 L145.9,374.1 L150.3,365.3 L154.2,349.9M124.1,369.8 L127.9,362.0 L133.6,378.2 L137.3,366.9 L142.7,347.5 L145.7,339.2 L150.5,323.1 L154.5,311.6M135.3,335.6 L139.8,322.1 L142.0,284.9 L144.3,268.0 L148.8,274.8 L153.3,295.1M126.2,355.9 L130.8,315.3 L135.3,328.9 L139.8,349.1 L144.3,342.4M117.2,362.7 L121.7,369.4 L126.2,359.3 L130.8,352.5 L135.3,362.7M148.8,376.2 L153.3,366.0 L157.8,359.3 L160.1,372.8M139.8,369.4 L144.3,379.6 L148.8,362.7 L153.3,369.4" fill="none" stroke="#3a3a3a" stroke-width="0.45"/><path d="M121.0,373.9 L126.0,372.4 L131.0,366.2 L136.0,353.9 L141.0,334.5 L146.1,307.2 L151.1,271.4M121.2,384.4 L128.8,382.9 L136.4,376.4 L144.0,363.2 L151.6,341.9 L159.3,311.6 L166.9,271.4M122.6,385.7 L127.7,383.8 L132.8,377.3 L138.0,365.4 L143.1,348.0 L148.2,324.6 L153.3,295.1M122.7,377.2 L128.5,374.5 L134.4,367.7 L140.3,357.2 L146.1,343.2 L152.0,325.8 L157.8,305.2M132.7,371.3 L137.3,370.7 L141.8,367.7 L146.4,361.1 L151.0,350.1 L155.5,333.9 L160.1,312.0M117.3,379.5 L124.8,377.3 L132.3,371.3 L139.8,362.0 L147.3,349.5 L154.9,333.9 L162.4,315.3M118.8,386.6 L126.9,385.9 L134.9,383.0 L142.9,377.3 L150.9,368.3 L158.9,355.6 L166.9,339.0M122.9,379.6 L128.7,379.4 L134.6,378.4 L140.4,376.2 L146.2,372.4 L152.0,366.9 L157.8,359.3M121.7,380.5 L127.0,379.4 L132.2,375.9 L137.5,369.5 L142.8,360.2 L148.1,347.8 L153.3,332.2M133.0,368.5 L135.6,367.9 L138.3,364.8 L140.9,357.8 L143.5,345.7 L146.2,327.4 L148.8,301.8M118.8,382.9 L123.4,380.6 L128.0,374.4 L132.7,364.6 L137.3,351.4 L141.9,335.0 L146.6,315.3M127.6,368.4 L131.1,367.6 L134.7,364.8 L138.2,359.4 L141.7,351.2 L145.3,340.0 L148.8,325.5M131.6,381.2 L135.6,379.7 L139.6,375.0 L143.6,367.0 L147.6,355.5 L151.6,340.6 L155.6,322.1M128.2,366.3 L130.9,365.7 L133.6,363.3 L136.3,358.6 L138.9,351.5 L141.6,341.6 L144.3,328.9M121.5,375.9 L124.9,375.2 L128.3,372.7 L131.8,368.2 L135.2,361.8 L138.6,353.2 L142.0,342.4M119.5,373.3 L124.7,372.8 L130.0,370.2 L135.3,363.9 L140.5,352.9 L145.8,335.9 L151.1,312.0M118.9,385.6 L125.4,383.6 L131.9,378.3 L138.4,370.1 L144.9,359.0 L151.4,345.3 L157.8,328.9M125.6,372.7 L131.7,372.0 L137.8,369.1 L144.0,363.4 L150.1,354.4 L156.2,341.9 L162.4,325.5M122.2,385.1 L127.4,384.8 L132.6,383.0 L137.7,379.1 L142.9,372.5 L148.1,362.6 L153.3,349.1M120.1,384.0 L124.8,383.0 L129.6,379.9 L134.4,374.4 L139.2,366.4 L144.0,355.7 L148.8,342.4M131.2,376.6 L133.4,376.5 L135.6,375.4 L137.8,372.8 L139.9,368.0 L142.1,360.3 L144.3,349.1M119.9,374.9 L123.2,374.6 L126.5,373.5 L129.8,371.1 L133.1,367.0 L136.5,360.9 L139.8,352.5M123.9,384.0 L128.8,382.4 L133.7,377.2 L138.6,368.1 L143.5,354.8 L148.4,337.3 L153.3,315.3M127.0,376.7 L131.7,374.2 L136.5,367.3 L141.3,356.5 L146.0,341.9 L150.8,323.6 L155.6,301.8M121.2,383.5 L125.8,382.5 L130.4,377.6 L135.0,367.0 L139.6,349.3 L144.2,323.4 L148.8,288.3M120.3,373.4 L127.3,372.4 L134.3,368.1 L141.3,359.6 L148.3,346.1 L155.3,327.0 L162.4,301.8M123.1,384.4 L128.9,381.8 L134.7,373.9 L140.5,361.0 L146.3,342.9 L152.1,319.8 L157.8,291.7M131.4,377.5 L133.9,376.4 L136.4,373.3 L139.0,368.0 L141.5,360.6 L144.0,350.9 L146.6,339.0M123.6,384.2 L128.5,383.7 L133.5,380.0 L138.5,370.4 L143.4,352.0 L148.4,322.2 L153.3,278.2M129.4,374.8 L132.8,372.4 L136.2,365.6 L139.6,354.7 L143.0,339.8 L146.3,321.1 L149.7,298.4M123.7,383.6 L127.8,383.0 L131.8,379.5 L135.8,371.6 L139.9,357.9 L143.9,337.3 L147.9,308.6M122.8,378.5 L128.0,377.0 L133.3,372.0 L138.5,362.8 L143.8,349.3 L149.0,331.3 L154.2,308.6M122.1,386.0 L127.1,384.5 L132.2,379.5 L137.3,370.8 L142.3,358.5 L147.4,342.2 L152.4,322.1M119.1,374.0 L124.2,372.3 L129.3,367.2 L134.4,358.5 L139.4,346.2 L144.5,330.1 L149.6,310.3M117.6,384.5 L121.7,383.8 L125.8,381.0 L129.9,375.9 L134.0,368.1 L138.2,357.5 L142.3,343.8M123.2,373.1 L127.7,372.9 L132.1,371.8 L136.5,369.5 L140.9,365.6 L145.4,359.8 L149.8,351.7M117.4,386.7 L123.1,386.4 L128.8,384.2 L134.4,378.5 L140.1,367.8 L145.7,350.7 L151.4,325.7M121.5,380.2 L126.5,379.5 L131.5,376.1 L136.5,368.2 L141.5,354.4 L146.5,333.4 L151.5,304.0M120.9,376.5 L125.1,376.1 L129.4,373.4 L133.6,366.4 L137.9,353.3 L142.1,332.4 L146.4,301.9M132.2,375.9 L135.5,375.4 L138.8,372.7 L142.1,366.6 L145.4,356.2 L148.7,340.5 L152.0,318.8M122.6,374.7 L127.8,374.0 L133.1,370.5 L138.4,363.1 L143.7,350.8 L149.0,333.1 L154.2,309.2M121.3,385.9 L126.2,385.4 L131.1,383.0 L135.9,377.7 L140.8,368.7 L145.6,355.5 L150.5,337.3M119.8,376.6 L125.8,375.8 L131.7,372.2 L137.7,364.5 L143.6,351.9 L149.6,333.5 L155.5,308.7M122.3,386.6 L126.6,385.7 L130.9,381.8 L135.1,373.4 L139.4,359.4 L143.7,338.9 L148.0,311.1M120.6,378.3 L125.2,378.1 L129.9,376.9 L134.6,374.0 L139.2,368.3 L143.9,359.3 L148.6,346.1M121.8,384.1 L125.8,383.4 L129.7,381.3 L133.7,377.8 L137.6,372.8 L141.6,366.4 L145.5,358.6M123.2,382.4 L128.4,381.8 L133.6,378.8 L138.8,372.3 L144.0,361.1 L149.1,344.4 L154.3,321.4M132.2,367.9 L134.3,367.3 L136.4,365.1 L138.5,360.9 L140.6,354.5 L142.6,345.8 L144.7,334.5M120.6,375.1 L125.5,374.9 L130.4,373.6 L135.3,370.3 L140.2,364.3 L145.0,354.8 L149.9,341.1M118.4,380.6 L123.9,378.9 L129.5,373.3 L135.0,363.3 L140.6,348.6 L146.1,329.1 L151.7,304.7M120.6,382.5 L124.6,382.2 L128.7,380.4 L132.7,375.8 L136.8,367.5 L140.9,354.3 L144.9,335.5M117.4,374.6 L123.7,373.1 L130.1,369.2 L136.4,363.1 L142.7,355.1 L149.0,345.1 L155.3,333.3M122.6,386.7 L127.4,384.9 L132.3,379.8 L137.1,371.3 L142.0,359.6 L146.8,344.6 L151.6,326.5M126.1,379.1 L129.8,378.3 L133.5,376.3 L137.2,373.2 L140.8,369.1 L144.5,364.0 L148.2,357.9M121.6,375.5 L126.5,375.3 L131.3,373.9 L136.1,370.1 L140.9,362.9 L145.7,351.1 L150.6,333.6M118.4,386.8 L123.9,386.3 L129.4,383.9 L134.9,379.3 L140.3,371.9 L145.8,361.5 L151.3,347.8M119.5,377.1 L124.9,376.7 L130.3,375.1 L135.6,371.9 L141.0,366.6 L146.4,359.0 L151.7,349.0M122.6,374.1 L127.2,372.2 L131.8,366.9 L136.5,358.6 L141.1,347.2 L145.7,332.9 L150.4,315.8M120.3,378.1 L126.0,377.8 L131.7,375.6 L137.5,370.0 L143.2,359.4 L148.9,342.5 L154.7,317.8M131.2,366.9 L133.8,366.3 L136.5,363.9 L139.2,359.0 L141.8,351.4 L144.5,340.7 L147.1,326.6M122.7,377.9 L127.4,377.6 L132.1,376.3 L136.8,373.1 L141.5,367.6 L146.2,359.2 L150.9,347.5M132.8,373.1 L134.8,372.6 L136.8,369.9 L138.9,363.3 L140.9,351.6 L142.9,333.4 L144.9,307.6M127.1,380.0 L130.3,378.9 L133.5,374.3 L136.8,365.5 L140.0,351.6 L143.2,332.2 L146.4,307.0M117.4,375.5 L122.7,373.4 L128.1,367.8 L133.4,359.1 L138.8,347.3 L144.1,332.6 L149.5,315.1M122.5,385.0 L127.6,384.0 L132.7,380.9 L137.7,376.0 L142.8,369.0 L147.8,360.1 L152.9,349.3M130.2,366.9 L133.3,366.2 L136.5,363.3 L139.6,357.5 L142.8,348.2 L145.9,335.1 L149.0,317.7M120.8,382.9 L126.5,382.6 L132.1,381.4 L137.8,378.4 L143.5,373.2 L149.2,365.4 L154.9,354.3M129.0,376.5 L132.6,375.7 L136.3,372.6 L139.9,366.6 L143.5,357.6 L147.1,345.2 L150.7,329.2M123.0,373.2 L128.1,372.4 L133.1,368.7 L138.2,361.0 L143.3,348.7 L148.4,331.0 L153.5,307.5M120.6,378.4 L125.5,377.3 L130.3,374.3 L135.2,369.8 L140.1,363.8 L144.9,356.4 L149.8,347.7" fill="none" stroke="#ec1a12" stroke-width="1.05" stroke-linecap="round" stroke-linejoin="round"/><rect x="115.4" y="262.1" width="57.80" height="132.90" fill="none" stroke="#777" stroke-width="0.7"/><filter id="bb" x="-20%" y="-20%" width="140%" height="140%"><feGaussianBlur stdDeviation="2.5"/></filter><path d="M576.0,14.0 C577.1,12.9 576.4,11.1 577.4,9.4 C578.4,7.7 580.2,5.2 582.0,4.0 C583.8,2.8 585.3,2.6 588.3,2.2 C591.3,1.8 596.6,1.4 600.0,1.5 C603.4,1.6 606.3,2.2 608.7,2.9 C611.1,3.6 612.3,4.7 614.5,5.8 C616.7,6.9 619.4,7.7 621.8,9.4 C624.2,11.1 626.3,13.4 629.0,16.0 C631.7,18.6 634.9,21.8 637.8,24.7 C640.7,27.6 643.9,30.2 646.5,33.4 C649.1,36.5 651.8,40.2 653.7,43.6 C655.6,47.0 657.0,50.0 658.1,53.7 C659.2,57.4 660.1,62.6 660.5,66.0 C660.9,69.4 661.0,71.0 660.5,74.0 C660.0,77.0 659.4,81.8 657.8,84.2 C656.2,86.6 654.4,87.5 650.8,88.2 C647.2,88.9 640.6,88.2 636.3,88.2 C631.9,88.2 627.0,87.4 624.7,88.4 C622.5,89.4 624.0,92.7 622.8,94.4 C621.6,96.1 619.8,97.6 617.4,98.5 C615.0,99.4 612.1,99.8 608.7,100.0 C605.3,100.2 599.7,99.8 597.0,99.8 C594.3,99.8 594.6,100.3 592.7,99.8 C590.8,99.3 587.8,98.7 585.4,97.0 C583.0,95.3 580.6,92.0 578.2,89.8 C575.8,87.6 573.3,86.2 570.9,84.0 C568.5,81.8 565.5,79.7 563.6,76.8 C561.7,73.9 560.4,70.3 559.5,66.8 C558.6,63.3 558.2,59.6 558.0,56.0 C557.8,52.4 558.2,48.5 558.5,45.0 C558.8,41.5 559.3,38.0 560.0,35.0 C560.7,32.0 561.5,29.4 562.5,27.0 C563.5,24.6 564.6,22.3 566.0,20.5 C567.4,18.7 569.3,17.1 571.0,16.0 C572.7,14.9 574.9,15.1 576.0,14.0Z" fill="#3a86c8"/><path d="M577.0,10.5 C577.5,8.9 577.8,6.5 578.9,5.3 C580.1,4.0 582.0,3.4 584.0,2.9 C586.1,2.4 589.8,1.8 591.3,2.0 C592.8,2.2 593.2,2.9 593.0,4.1 C592.7,5.3 591.2,7.1 589.9,9.0 C588.6,10.9 586.6,13.5 585.3,15.3 C584.0,17.0 583.3,18.8 582.1,19.6 C581.0,20.3 579.4,20.8 578.4,20.0 C577.4,19.1 576.5,16.0 576.3,14.4 C576.1,12.8 576.6,12.0 577.0,10.5Z" fill="#e58a22" stroke="#e58a22" stroke-width="1.3" stroke-linejoin="round"/><path d="M557.4,45.3 C558.0,43.4 560.1,42.2 560.8,43.8 C561.4,45.4 561.5,50.9 561.5,54.9 C561.5,59.0 560.8,64.9 560.7,68.3 C560.5,71.7 560.9,75.6 560.6,75.5 C560.3,75.5 559.4,71.3 558.8,67.9 C558.3,64.6 557.5,59.3 557.3,55.5 C557.0,51.7 556.9,47.3 557.4,45.3Z" fill="#e58a22" stroke="#e58a22" stroke-width="1.3" stroke-linejoin="round"/><path d="M566.3,20.7 C568.1,18.4 568.9,16.6 570.6,15.6 C572.2,14.6 574.9,14.5 576.3,14.7 C577.8,14.9 578.5,15.4 579.2,16.8 C579.9,18.2 580.9,21.7 580.6,23.1 C580.3,24.5 579.3,24.1 577.5,25.1 C575.7,26.0 572.0,27.0 569.9,28.9 C567.9,30.8 566.6,33.6 565.2,36.5 C563.9,39.4 562.9,45.5 561.9,46.0 C561.0,46.6 559.6,42.5 559.2,39.8 C558.8,37.0 558.4,32.7 559.5,29.5 C560.7,26.4 564.4,23.1 566.3,20.7Z" fill="#2db4e6" stroke="#2db4e6" stroke-width="1.3" stroke-linejoin="round"/><path d="M569.1,29.0 C571.3,26.9 575.3,25.4 577.3,25.5 C579.3,25.6 580.6,27.7 581.1,29.6 C581.7,31.4 580.8,34.4 580.5,36.6 C580.2,38.8 579.4,40.8 579.3,42.7 C579.1,44.6 580.5,46.9 579.4,48.0 C578.3,49.1 575.0,49.9 572.6,49.4 C570.3,48.8 566.6,46.5 565.1,44.7 C563.7,42.8 563.5,41.0 564.1,38.4 C564.8,35.8 566.9,31.2 569.1,29.0Z" fill="#b2dc3c" stroke="#b2dc3c" stroke-width="1.3" stroke-linejoin="round"/><path d="M591.2,2.2 C593.1,0.6 595.8,1.2 597.9,1.2 C600.0,1.1 601.7,1.6 603.6,1.9 C605.4,2.2 607.3,2.6 609.1,3.2 C611.0,3.8 615.1,4.3 614.8,5.5 C614.5,6.8 609.4,8.3 607.3,10.7 C605.3,13.1 603.6,16.8 602.6,19.9 C601.6,23.0 601.1,26.6 601.2,29.4 C601.3,32.2 603.4,34.8 603.2,36.6 C603.1,38.4 601.4,38.8 600.3,40.4 C599.2,42.0 597.6,44.1 596.8,46.1 C596.1,48.1 596.2,49.2 595.8,52.4 C595.4,55.5 595.8,62.9 594.5,64.9 C593.2,66.9 590.4,65.2 588.1,64.2 C585.9,63.1 582.9,60.4 581.0,58.7 C579.1,56.9 577.7,55.0 576.7,53.6 C575.7,52.2 574.8,52.1 574.9,50.4 C575.1,48.7 576.7,46.9 577.5,43.4 C578.4,39.9 579.3,32.9 580.2,29.1 C581.1,25.2 581.7,23.4 582.9,20.3 C584.0,17.3 585.6,13.9 587.0,10.9 C588.4,7.9 589.4,3.8 591.2,2.2Z" fill="#b40a08" stroke="#b40a08" stroke-width="1.3" stroke-linejoin="round"/><path d="M608.8,8.9 C610.1,8.2 612.6,6.3 614.8,6.4 C617.0,6.6 619.8,8.2 622.0,9.8 C624.3,11.4 625.8,13.5 628.5,16.0 C631.2,18.5 635.2,22.0 638.2,24.8 C641.3,27.7 644.3,29.9 646.9,33.0 C649.5,36.1 651.8,39.9 653.7,43.3 C655.5,46.8 657.0,50.0 658.1,53.8 C659.3,57.5 660.1,62.3 660.5,65.7 C661.0,69.2 661.1,71.4 660.8,74.4 C660.4,77.4 660.0,81.6 658.4,83.9 C656.8,86.2 654.8,87.5 651.1,88.2 C647.4,89.0 640.9,88.1 636.4,88.2 C631.9,88.3 626.7,89.4 624.2,89.0 C621.7,88.5 621.6,86.6 621.5,85.4 C621.4,84.2 623.7,84.7 623.7,81.7 C623.7,78.6 622.9,70.2 621.6,67.3 C620.3,64.3 618.2,65.8 616.0,64.1 C613.8,62.4 610.1,59.7 608.4,57.0 C606.7,54.4 607.3,50.6 606.0,48.4 C604.7,46.2 601.4,45.1 600.4,43.8 C599.4,42.5 599.5,41.7 599.9,40.4 C600.2,39.0 602.3,37.7 602.5,35.9 C602.8,34.0 601.3,31.7 601.3,29.1 C601.3,26.5 601.4,23.5 602.4,20.5 C603.4,17.4 606.1,12.6 607.1,10.7 C608.2,8.8 607.5,9.7 608.8,8.9Z" fill="#e6dc1e" stroke="#e6dc1e" stroke-width="1.3" stroke-linejoin="round"/><clipPath id="ycl0"><path d="M608.8,8.9 C610.1,8.2 612.6,6.3 614.8,6.4 C617.0,6.6 619.8,8.2 622.0,9.8 C624.3,11.4 625.8,13.5 628.5,16.0 C631.2,18.5 635.2,22.0 638.2,24.8 C641.3,27.7 644.3,29.9 646.9,33.0 C649.5,36.1 651.8,39.9 653.7,43.3 C655.5,46.8 657.0,50.0 658.1,53.8 C659.3,57.5 660.1,62.3 660.5,65.7 C661.0,69.2 661.1,71.4 660.8,74.4 C660.4,77.4 660.0,81.6 658.4,83.9 C656.8,86.2 654.8,87.5 651.1,88.2 C647.4,89.0 640.9,88.1 636.4,88.2 C631.9,88.3 626.7,89.4 624.2,89.0 C621.7,88.5 621.6,86.6 621.5,85.4 C621.4,84.2 623.7,84.7 623.7,81.7 C623.7,78.6 622.9,70.2 621.6,67.3 C620.3,64.3 618.2,65.8 616.0,64.1 C613.8,62.4 610.1,59.7 608.4,57.0 C606.7,54.4 607.3,50.6 606.0,48.4 C604.7,46.2 601.4,45.1 600.4,43.8 C599.4,42.5 599.5,41.7 599.9,40.4 C600.2,39.0 602.3,37.7 602.5,35.9 C602.8,34.0 601.3,31.7 601.3,29.1 C601.3,26.5 601.4,23.5 602.4,20.5 C603.4,17.4 606.1,12.6 607.1,10.7 C608.2,8.8 607.5,9.7 608.8,8.9Z"/></clipPath><g clip-path="url(#ycl0)"><path d="M630.3,56.3 C633.6,53.0 641.8,48.1 646.0,47.8 C650.2,47.4 653.2,51.1 655.5,54.2 C657.8,57.2 659.1,62.9 660.0,66.3 C660.9,69.6 661.2,71.3 660.9,74.3 C660.5,77.3 659.4,82.0 657.8,84.3 C656.1,86.6 654.6,87.6 651.0,88.3 C647.5,89.0 640.6,90.0 636.3,88.6 C632.1,87.2 627.4,83.5 625.7,80.1 C624.0,76.6 625.5,71.7 626.3,67.8 C627.1,63.8 627.0,59.7 630.3,56.3Z" fill="#d9bc1a" filter="url(#bb)"/></g><path d="M599.8,43.7 C601.3,43.8 604.5,45.3 606.0,47.5 C607.4,49.6 607.1,53.7 608.7,56.5 C610.3,59.2 613.5,62.2 615.6,63.9 C617.7,65.6 620.1,63.9 621.3,66.7 C622.5,69.6 623.0,77.4 622.8,80.9 C622.6,84.3 620.9,86.2 620.2,87.4 C619.5,88.7 620.4,89.5 618.5,88.3 C616.6,87.1 611.9,83.5 608.8,80.3 C605.8,77.2 602.3,71.2 600.1,69.6 C597.8,68.0 596.3,71.5 595.4,70.7 C594.4,70.0 594.5,68.3 594.5,65.1 C594.4,61.9 594.9,54.7 595.2,51.6 C595.6,48.5 596.0,47.6 596.8,46.3 C597.6,45.0 598.3,43.5 599.8,43.7Z" fill="#3cd2a8" stroke="#3cd2a8" stroke-width="1.3" stroke-linejoin="round"/><path d="M594.6,72.5 C595.6,70.4 597.3,68.7 599.6,69.9 C601.9,71.1 605.0,76.6 608.3,79.6 C611.6,82.7 617.1,86.6 619.4,88.3 C621.7,90.0 621.3,88.9 621.9,90.0 C622.6,91.0 624.0,92.9 623.2,94.4 C622.3,95.9 619.6,98.1 617.1,99.0 C614.6,100.0 611.4,99.9 608.3,99.9 C605.2,100.0 600.4,101.1 598.5,99.3 C596.6,97.4 597.7,91.8 596.9,89.0 C596.2,86.2 594.4,85.2 594.0,82.4 C593.6,79.7 593.7,74.5 594.6,72.5Z" fill="#36d6dc" stroke="#36d6dc" stroke-width="1.3" stroke-linejoin="round"/><path d="M558.5,49.9 C558.8,48.8 558.3,50.3 560.3,50.5 C562.3,50.6 567.9,49.9 570.4,50.8 C572.9,51.8 573.8,54.0 575.6,56.2 C577.4,58.4 579.0,62.0 581.1,64.0 C583.1,66.0 585.5,66.9 587.8,68.1 C590.2,69.3 593.9,70.2 595.1,71.2 C596.3,72.1 595.3,71.8 595.1,73.7 C594.9,75.5 593.5,79.8 593.8,82.4 C594.2,85.0 596.5,86.2 597.0,89.0 C597.5,91.8 597.8,97.2 597.1,99.1 C596.4,101.0 594.6,100.8 592.6,100.4 C590.6,100.1 587.4,98.8 585.0,97.1 C582.6,95.4 580.7,92.4 578.4,90.2 C576.0,88.0 573.3,86.0 570.8,83.8 C568.3,81.5 565.3,79.5 563.4,76.7 C561.4,73.9 559.9,70.4 559.1,67.1 C558.2,63.8 558.3,59.9 558.2,57.0 C558.1,54.1 558.1,51.0 558.5,49.9Z" fill="#0c34e0" stroke="#0c34e0" stroke-width="1.3" stroke-linejoin="round"/><path d="M571.0,50.2 C571.0,49.1 573.5,48.6 575.1,49.5 C576.6,50.4 578.1,53.7 580.3,55.8 C582.5,57.9 585.8,60.6 588.2,62.2 C590.5,63.7 593.4,63.7 594.5,65.3 C595.6,66.9 595.6,71.3 594.6,71.7 C593.7,72.1 591.0,69.0 588.8,67.7 C586.6,66.5 583.6,65.9 581.4,64.0 C579.1,62.1 576.8,58.7 575.1,56.4 C573.4,54.1 571.0,51.4 571.0,50.2Z" fill="#40c4d4" stroke="#40c4d4" stroke-width="1.3" stroke-linejoin="round"/><clipPath id="cl5"><path d="M608.8,8.9 C610.1,8.2 612.6,6.3 614.8,6.4 C617.0,6.6 619.8,8.2 622.0,9.8 C624.3,11.4 625.8,13.5 628.5,16.0 C631.2,18.5 635.2,22.0 638.2,24.8 C641.3,27.7 644.3,29.9 646.9,33.0 C649.5,36.1 651.8,39.9 653.7,43.3 C655.5,46.8 657.0,50.0 658.1,53.8 C659.3,57.5 660.1,62.3 660.5,65.7 C661.0,69.2 661.1,71.4 660.8,74.4 C660.4,77.4 660.0,81.6 658.4,83.9 C656.8,86.2 654.8,87.5 651.1,88.2 C647.4,89.0 640.9,88.1 636.4,88.2 C631.9,88.3 626.7,89.4 624.2,89.0 C621.7,88.5 621.6,86.6 621.5,85.4 C621.4,84.2 623.7,84.7 623.7,81.7 C623.7,78.6 622.9,70.2 621.6,67.3 C620.3,64.3 618.2,65.8 616.0,64.1 C613.8,62.4 610.1,59.7 608.4,57.0 C606.7,54.4 607.3,50.6 606.0,48.4 C604.7,46.2 601.4,45.1 600.4,43.8 C599.4,42.5 599.5,41.7 599.9,40.4 C600.2,39.0 602.3,37.7 602.5,35.9 C602.8,34.0 601.3,31.7 601.3,29.1 C601.3,26.5 601.4,23.5 602.4,20.5 C603.4,17.4 606.1,12.6 607.1,10.7 C608.2,8.8 607.5,9.7 608.8,8.9Z"/></clipPath><path d="M619.8,18.5 Q619.1,17.0 618.2,16.3M603.5,47.9 Q604.1,47.1 607.2,48.8M625.9,74.3 Q627.4,76.8 628.2,76.5M635.2,38.8 Q637.6,37.9 637.8,38.4M608.8,15.7 Q607.0,18.3 607.0,20.3M639.0,36.8 Q636.4,35.5 636.4,36.0M641.5,41.3 Q640.5,42.7 639.8,45.2M648.5,63.7 Q648.6,67.0 648.6,68.0M644.5,29.8 Q645.7,30.4 647.3,29.4M609.3,46.4 Q612.2,47.2 613.6,47.5M653.4,31.9 Q652.9,29.8 652.0,27.9M651.2,84.0 Q647.7,85.0 646.8,84.8M639.5,88.0 Q639.9,87.0 640.9,85.0M601.4,44.1 Q600.8,46.2 602.8,46.6M607.9,26.5 Q604.7,27.9 603.9,29.7M633.5,79.0 Q633.9,76.4 635.7,74.3M621.9,79.0 Q622.3,77.8 624.7,78.3M614.2,46.1 Q611.4,44.9 611.4,44.3M622.5,52.8 Q624.8,52.5 626.9,51.4M641.2,10.5 Q644.3,9.9 645.1,7.6M623.9,39.0 Q624.4,39.0 627.4,41.6M612.7,19.4 Q610.5,19.5 611.3,21.7M606.2,36.0 Q609.1,35.4 611.2,36.9M615.4,34.7 Q615.5,37.3 613.5,36.9M628.4,46.0 Q629.2,46.0 630.8,47.4M650.6,19.3 Q653.3,18.7 655.9,20.1M633.1,8.2 Q631.5,8.3 627.8,7.3M615.9,36.3 Q617.2,39.2 618.3,40.5M620.1,24.4 Q622.2,22.8 622.2,19.4M649.9,67.1 Q649.8,67.7 650.5,71.1M601.7,29.1 Q602.9,31.2 601.4,33.7M657.2,87.6 Q658.0,86.3 660.6,86.6M612.0,22.9 Q611.2,21.0 608.3,19.2M639.8,72.1 Q643.0,74.0 643.7,74.3M645.8,45.5 Q646.3,48.6 647.9,49.9M659.3,38.7 Q657.8,39.3 654.9,41.8M607.7,18.5 Q608.7,18.1 611.8,15.7M659.8,60.3 Q657.5,60.5 657.4,63.6M659.2,59.7 Q656.4,60.3 654.0,58.8M650.4,23.4 Q649.6,25.4 650.4,26.8M615.8,40.6 Q617.2,42.4 619.4,44.4M635.6,80.7 Q633.3,82.0 631.0,83.2M631.9,7.5 Q629.0,9.0 629.1,8.7M610.5,45.1 Q609.7,43.1 609.9,41.0M633.9,70.8 Q634.8,71.4 637.2,73.4M647.1,47.9 Q646.1,46.9 642.7,46.1M637.4,47.8 Q634.9,47.7 632.8,47.4M629.2,83.8 Q629.7,80.6 627.5,78.9M634.1,83.9 Q633.8,82.5 635.7,81.5M604.4,25.9 Q607.3,28.1 608.5,27.9M609.4,65.2 Q609.8,65.3 607.9,62.7M613.4,84.7 Q613.3,86.9 610.2,87.0M609.8,41.6 Q607.2,40.9 606.3,41.3M644.1,7.6 Q640.8,6.5 640.4,6.3M638.1,48.3 Q641.4,50.8 643.1,50.5M606.4,27.9 Q608.0,27.4 611.1,29.1M625.8,81.3 Q625.4,81.1 627.1,78.3M634.8,63.9 Q636.5,64.3 637.1,65.3M604.4,83.5 Q601.5,82.7 601.2,79.8M604.1,77.3 Q602.5,79.1 600.7,78.3M616.3,16.7 Q613.6,15.4 613.2,16.1M603.1,22.7 Q603.2,23.6 601.8,25.8M630.5,20.7 Q629.0,20.3 629.0,22.8M644.7,51.5 Q646.8,52.2 646.2,55.2M650.0,41.7 Q647.1,41.8 645.0,41.9M642.0,87.1 Q641.2,89.6 639.2,91.3M624.7,34.7 Q624.8,35.9 627.4,35.7M615.6,19.5 Q618.9,21.3 619.9,22.0M617.2,26.0 Q615.7,27.7 616.2,29.7M616.1,85.4 Q617.3,86.5 620.1,84.7M618.9,35.5 Q620.6,35.5 622.5,35.5M612.3,47.7 Q612.7,47.4 615.6,47.8M602.5,7.9 Q602.3,9.5 601.5,10.9M645.8,60.3 Q644.9,57.3 644.7,55.3M660.1,18.3 Q658.3,17.2 659.3,14.0M654.4,57.8 Q653.1,55.4 653.9,52.9M630.8,75.0 Q631.9,73.8 632.4,70.3M641.7,63.3 Q640.7,64.1 642.0,65.8M606.4,75.0 Q604.7,74.8 602.3,73.5M629.8,6.3 Q630.6,4.1 631.2,1.7M640.2,11.5 Q638.8,9.1 639.9,8.2M644.5,23.0 Q644.3,19.9 644.1,17.5M629.2,62.5 Q629.9,59.0 629.7,58.1M609.0,27.0 Q609.1,23.8 608.8,23.6M603.7,28.2 Q603.1,25.6 601.5,24.2M631.5,44.4 Q631.3,43.8 628.7,45.0M659.7,83.3 Q662.6,85.0 663.5,83.8M627.4,28.2 Q627.2,31.0 628.8,33.4M608.6,49.3 Q611.0,48.9 611.4,48.4M654.1,64.1 Q654.4,65.2 654.7,69.3M600.2,46.6 Q597.5,46.7 597.0,47.7M619.3,75.4 Q622.7,74.3 624.0,75.5M656.5,64.9 Q657.5,63.6 659.3,62.9M660.9,54.7 Q659.0,54.8 658.5,57.6M606.2,74.9 Q604.9,76.8 605.0,80.1M631.2,21.7 Q630.4,24.5 627.4,25.5M638.5,81.4 Q641.1,79.3 642.3,79.9M644.7,43.2 Q644.1,39.7 644.7,38.8M656.5,16.5 Q654.2,17.5 653.1,17.1M659.6,27.5 Q658.8,25.8 657.7,24.7M610.2,19.4 Q610.9,21.0 611.6,24.4M655.3,88.3 Q653.0,87.5 652.5,89.2M620.9,13.5 Q621.2,16.3 621.1,16.8M645.7,40.1 Q643.6,40.7 642.2,42.2M603.8,28.9 Q605.2,29.0 606.6,28.3M652.6,23.8 Q652.1,25.3 652.2,27.1M658.2,76.1 Q657.7,75.8 660.0,74.3M654.6,45.1 Q653.2,45.7 652.5,43.8M650.4,76.7 Q650.8,75.3 653.6,76.1M631.9,62.3 Q634.5,62.3 636.2,60.6M627.9,51.6 Q629.4,53.4 632.6,52.7M639.4,31.1 Q640.9,32.9 641.6,33.4M606.8,11.8 Q604.4,10.7 602.6,11.2M636.7,6.9 Q637.4,9.1 635.4,10.5M653.9,45.3 Q655.4,47.5 654.2,48.5M618.8,7.8 Q616.2,7.1 614.2,7.9M640.7,82.4 Q640.4,83.5 641.1,85.0M641.6,22.4 Q642.3,19.2 643.0,17.8M659.2,31.7 Q659.0,31.1 660.5,28.9M618.0,84.6 Q615.6,84.4 614.9,84.7M640.6,84.4 Q640.8,87.3 642.8,87.3M608.7,10.3 Q611.6,12.1 612.1,11.6M644.7,88.4 Q645.3,89.0 647.9,86.9M645.5,8.6 Q644.2,6.6 643.7,5.5M610.3,6.2 Q611.4,6.9 609.7,9.7M658.8,23.1 Q658.2,24.9 655.7,27.0M603.0,45.1 Q600.3,46.6 599.3,48.9M654.7,8.5 Q653.4,8.4 650.5,11.1M602.1,11.2 Q604.3,11.6 605.0,9.6M620.7,28.5 Q622.1,28.6 624.9,27.3M619.3,28.8 Q622.9,29.2 624.1,28.9M657.5,8.0 Q659.1,11.3 657.9,11.9M623.6,26.7 Q623.1,26.6 620.0,28.4M649.0,67.0 Q650.3,64.3 651.1,62.7M619.5,35.9 Q618.9,35.3 620.0,33.2M615.1,11.3 Q616.6,13.2 619.1,12.2M653.9,87.6 Q652.6,89.0 653.6,90.3M643.3,42.9 Q643.8,45.3 643.7,46.7M645.6,76.0 Q645.9,74.1 644.2,73.5M634.6,36.8 Q633.7,34.5 634.3,33.7M609.4,79.0 Q607.5,79.7 606.3,77.4M630.9,25.1 Q633.2,21.8 632.5,20.9M629.0,73.7 Q629.0,70.8 631.8,69.2M607.3,21.7 Q610.7,20.9 611.5,20.9M652.8,43.1 Q654.0,44.3 652.5,47.9M636.4,57.2 Q635.7,58.1 637.1,60.7M615.5,55.5 Q613.2,53.7 613.7,53.0M641.4,21.3 Q641.7,22.9 640.2,24.2M603.9,14.4 Q602.6,14.4 600.6,16.9M610.0,63.4 Q608.0,65.7 607.2,65.2" fill="none" stroke="#a89212" stroke-width="0.8" stroke-opacity="0.45" stroke-linecap="round" clip-path="url(#cl5)"/><clipPath id="cl5"><path d="M608.8,8.9 C610.1,8.2 612.6,6.3 614.8,6.4 C617.0,6.6 619.8,8.2 622.0,9.8 C624.3,11.4 625.8,13.5 628.5,16.0 C631.2,18.5 635.2,22.0 638.2,24.8 C641.3,27.7 644.3,29.9 646.9,33.0 C649.5,36.1 651.8,39.9 653.7,43.3 C655.5,46.8 657.0,50.0 658.1,53.8 C659.3,57.5 660.1,62.3 660.5,65.7 C661.0,69.2 661.1,71.4 660.8,74.4 C660.4,77.4 660.0,81.6 658.4,83.9 C656.8,86.2 654.8,87.5 651.1,88.2 C647.4,89.0 640.9,88.1 636.4,88.2 C631.9,88.3 626.7,89.4 624.2,89.0 C621.7,88.5 621.6,86.6 621.5,85.4 C621.4,84.2 623.7,84.7 623.7,81.7 C623.7,78.6 622.9,70.2 621.6,67.3 C620.3,64.3 618.2,65.8 616.0,64.1 C613.8,62.4 610.1,59.7 608.4,57.0 C606.7,54.4 607.3,50.6 606.0,48.4 C604.7,46.2 601.4,45.1 600.4,43.8 C599.4,42.5 599.5,41.7 599.9,40.4 C600.2,39.0 602.3,37.7 602.5,35.9 C602.8,34.0 601.3,31.7 601.3,29.1 C601.3,26.5 601.4,23.5 602.4,20.5 C603.4,17.4 606.1,12.6 607.1,10.7 C608.2,8.8 607.5,9.7 608.8,8.9Z"/></clipPath><path d="M619.1,52.8 Q619.0,55.8 616.7,55.7M622.2,22.3 Q620.5,22.0 621.8,19.2M625.8,73.8 Q623.6,74.2 621.6,76.6M600.9,51.6 Q598.0,49.9 597.6,47.5M622.6,47.7 Q623.7,50.3 624.7,50.3M606.6,46.5 Q606.6,42.9 608.4,41.4M657.5,86.6 Q657.5,86.4 654.9,86.9M655.2,57.2 Q656.7,55.1 656.5,54.6M624.7,75.9 Q624.6,74.3 626.1,73.2M631.6,37.7 Q633.4,40.0 633.9,39.9M602.5,52.4 Q603.6,50.0 602.6,49.8M636.6,51.4 Q635.1,50.5 634.2,49.0M626.0,60.4 Q622.7,61.4 622.4,61.7M629.9,25.4 Q629.9,22.1 630.3,20.6M628.9,14.8 Q629.0,16.0 631.5,17.6M631.1,9.4 Q630.9,9.2 629.3,7.3M631.2,10.5 Q630.7,9.3 627.6,10.4M652.3,88.3 Q651.1,87.3 651.7,83.4M630.0,85.0 Q632.2,85.6 632.6,83.5M604.0,35.0 Q605.2,32.8 604.1,32.0M649.8,17.9 Q646.2,17.1 644.5,17.8M630.9,32.4 Q631.3,34.0 633.8,33.1M641.5,80.0 Q641.5,82.2 643.8,84.2M638.8,35.7 Q640.5,35.4 641.7,32.7M606.4,88.0 Q606.0,86.0 603.9,85.3M660.4,53.7 Q658.7,54.6 657.4,57.4M645.4,10.0 Q646.5,10.0 646.7,7.0M635.7,60.8 Q633.9,60.9 634.8,63.1M637.6,41.7 Q633.9,40.7 632.4,41.3M639.8,7.8 Q640.4,7.4 643.4,7.9M613.7,54.2 Q612.7,53.3 611.0,52.6M608.2,83.4 Q607.1,85.2 608.3,86.3M653.1,70.6 Q650.3,72.0 650.5,72.5M634.3,34.9 Q634.4,34.1 632.0,31.9M615.2,80.6 Q616.8,80.4 619.1,81.7M603.6,70.3 Q607.0,69.4 607.7,70.7M612.2,56.2 Q610.9,55.2 607.7,56.0M618.9,30.8 Q622.2,32.2 623.8,32.4M600.4,75.8 Q601.0,73.7 600.3,71.9M613.8,14.7 Q613.4,16.7 614.1,17.3M642.4,75.8 Q642.2,74.0 641.6,72.6M648.1,49.2 Q649.3,50.6 647.7,53.6M653.7,7.3 Q654.3,10.2 653.5,10.5M645.5,33.0 Q646.0,33.0 648.1,30.6M638.5,63.2 Q637.0,61.9 635.7,58.6M642.6,76.8 Q640.6,77.2 638.2,78.6M612.9,57.4 Q614.2,57.2 617.6,59.9M606.5,82.7 Q604.3,82.6 604.9,85.2M642.3,58.4 Q640.2,56.4 640.7,53.9M622.2,73.5 Q622.0,72.3 624.3,68.8M655.8,84.0 Q655.8,83.6 658.2,85.9M651.7,73.1 Q650.4,70.6 648.4,69.4M606.1,14.1 Q605.6,12.3 606.2,11.0M601.3,27.2 Q600.4,28.9 600.3,31.8M658.8,47.6 Q658.7,45.6 661.4,44.1M626.6,69.9 Q625.4,70.9 624.0,73.6M652.6,13.5 Q651.7,11.2 653.9,10.8M646.5,86.8 Q648.5,87.7 650.5,86.9M611.3,46.9 Q609.1,50.2 608.4,50.9M617.3,23.7 Q615.5,22.2 616.1,19.9" fill="none" stroke="#f6f070" stroke-width="0.6" stroke-opacity="0.5" stroke-linecap="round" clip-path="url(#cl5)"/><clipPath id="cl4"><path d="M591.2,2.2 C593.1,0.6 595.8,1.2 597.9,1.2 C600.0,1.1 601.7,1.6 603.6,1.9 C605.4,2.2 607.3,2.6 609.1,3.2 C611.0,3.8 615.1,4.3 614.8,5.5 C614.5,6.8 609.4,8.3 607.3,10.7 C605.3,13.1 603.6,16.8 602.6,19.9 C601.6,23.0 601.1,26.6 601.2,29.4 C601.3,32.2 603.4,34.8 603.2,36.6 C603.1,38.4 601.4,38.8 600.3,40.4 C599.2,42.0 597.6,44.1 596.8,46.1 C596.1,48.1 596.2,49.2 595.8,52.4 C595.4,55.5 595.8,62.9 594.5,64.9 C593.2,66.9 590.4,65.2 588.1,64.2 C585.9,63.1 582.9,60.4 581.0,58.7 C579.1,56.9 577.7,55.0 576.7,53.6 C575.7,52.2 574.8,52.1 574.9,50.4 C575.1,48.7 576.7,46.9 577.5,43.4 C578.4,39.9 579.3,32.9 580.2,29.1 C581.1,25.2 581.7,23.4 582.9,20.3 C584.0,17.3 585.6,13.9 587.0,10.9 C588.4,7.9 589.4,3.8 591.2,2.2Z"/></clipPath><path d="M577.7,51.8 Q577.3,49.0 576.1,47.2M590.6,26.7 Q592.8,24.4 592.7,24.9M582.7,18.3 Q584.0,18.3 586.0,16.0M583.8,30.9 Q582.3,30.9 579.2,30.0M588.4,22.3 Q590.3,25.1 591.3,26.5M581.3,29.5 Q580.5,27.3 581.9,25.3M609.9,16.7 Q611.1,19.3 611.1,19.9M580.7,11.5 Q580.8,12.2 580.7,14.9M587.6,13.6 Q588.7,14.6 592.2,12.8M578.6,26.0 Q581.7,25.6 583.4,25.5M582.3,42.2 Q583.2,41.8 584.8,44.1M590.5,52.0 Q590.2,50.0 589.1,48.2M580.2,40.0 Q579.4,41.1 576.3,42.7M597.5,49.3 Q596.7,51.2 594.7,50.8M605.5,46.2 Q607.2,44.2 608.2,42.5M587.0,41.6 Q589.4,43.3 590.1,43.8M599.7,17.5 Q598.3,18.1 596.3,19.2M601.5,60.8 Q603.3,62.5 603.3,64.9M594.1,63.7 Q595.1,65.0 598.1,64.7M612.1,34.6 Q613.9,36.5 615.5,37.1M595.0,42.3 Q595.7,41.8 596.9,38.7M582.9,45.2 Q579.9,48.1 579.2,48.2M588.7,5.1 Q587.0,6.7 588.2,8.8M591.3,46.0 Q589.5,48.1 589.4,48.7M612.1,35.1 Q612.3,36.7 613.1,39.9M579.7,51.0 Q580.4,49.2 581.3,46.9M583.5,63.0 Q583.2,65.7 580.9,66.5M593.2,20.3 Q592.9,19.4 590.5,19.4M608.5,18.6 Q607.1,18.8 606.2,20.9M574.6,47.6 Q573.7,49.1 574.0,50.7M591.6,42.2 Q592.0,41.7 589.7,39.1M576.8,54.3 Q577.7,54.0 580.8,51.6M599.8,2.5 Q603.0,1.9 605.2,2.8M578.6,10.6 Q578.3,12.0 579.1,15.4M610.7,52.0 Q612.3,55.1 613.2,56.5M601.2,58.5 Q600.9,56.7 602.4,53.7M595.7,48.8 Q593.5,49.1 591.0,50.8M583.9,10.4 Q582.4,9.4 581.2,10.5M594.2,33.3 Q590.2,33.7 589.2,32.0M593.2,37.4 Q591.6,35.0 590.7,33.1" fill="none" stroke="#7a0000" stroke-width="0.8" stroke-opacity="0.5" stroke-linecap="round" clip-path="url(#cl4)"/><clipPath id="cl9"><path d="M558.5,49.9 C558.8,48.8 558.3,50.3 560.3,50.5 C562.3,50.6 567.9,49.9 570.4,50.8 C572.9,51.8 573.8,54.0 575.6,56.2 C577.4,58.4 579.0,62.0 581.1,64.0 C583.1,66.0 585.5,66.9 587.8,68.1 C590.2,69.3 593.9,70.2 595.1,71.2 C596.3,72.1 595.3,71.8 595.1,73.7 C594.9,75.5 593.5,79.8 593.8,82.4 C594.2,85.0 596.5,86.2 597.0,89.0 C597.5,91.8 597.8,97.2 597.1,99.1 C596.4,101.0 594.6,100.8 592.6,100.4 C590.6,100.1 587.4,98.8 585.0,97.1 C582.6,95.4 580.7,92.4 578.4,90.2 C576.0,88.0 573.3,86.0 570.8,83.8 C568.3,81.5 565.3,79.5 563.4,76.7 C561.4,73.9 559.9,70.4 559.1,67.1 C558.2,63.8 558.3,59.9 558.2,57.0 C558.1,54.1 558.1,51.0 558.5,49.9Z"/></clipPath><path d="M595.5,53.8 Q592.6,52.4 592.6,50.4M584.8,96.8 Q583.5,99.1 582.1,101.5M593.1,51.7 Q592.1,50.6 592.2,47.4M572.6,73.8 Q569.4,73.2 567.8,73.1M574.8,77.8 Q576.5,76.0 576.3,74.8M577.9,63.6 Q575.6,64.4 572.5,63.4M571.2,65.9 Q571.0,68.8 569.9,70.0M560.0,86.3 Q560.2,84.3 563.1,83.5M558.7,59.5 Q561.1,59.4 562.5,57.5M593.5,80.7 Q592.5,79.5 590.3,77.8M584.7,60.7 Q584.5,57.8 582.8,57.3M565.5,51.9 Q566.3,48.9 566.3,46.7M590.2,89.5 Q588.1,88.6 587.1,88.2M570.8,71.6 Q567.8,69.8 567.4,67.5M560.0,56.0 Q562.0,53.8 561.6,52.0M559.0,69.4 Q558.3,67.9 554.6,66.5M574.4,55.1 Q572.4,52.4 572.4,52.7M558.7,84.3 Q559.4,87.3 562.6,88.1M563.5,50.9 Q563.9,48.4 562.8,47.7M560.4,88.9 Q560.5,85.1 559.3,83.9M582.7,85.6 Q579.4,87.6 577.6,86.9M586.1,50.6 Q589.3,49.5 590.5,51.0M570.5,86.6 Q571.7,87.5 573.0,91.0M572.7,78.9 Q569.5,80.6 568.5,80.6M572.5,82.4 Q570.9,81.9 569.9,79.6M594.9,89.4 Q592.0,90.1 591.8,88.0M585.6,91.5 Q585.9,94.4 583.5,95.3M581.6,65.5 Q578.9,67.2 577.0,67.7M581.7,95.0 Q580.8,92.7 582.8,91.8M574.8,79.4 Q574.4,78.1 576.8,74.7M589.8,93.5 Q589.3,93.7 586.8,92.1M584.9,95.9 Q584.2,97.9 583.3,98.1M566.2,87.7 Q568.0,87.5 569.1,86.3M576.4,60.4 Q577.2,62.6 576.3,65.1M561.9,90.5 Q562.3,90.1 562.3,87.3M592.6,76.2 Q589.5,75.6 588.4,76.8M565.5,85.2 Q563.8,86.8 562.7,88.4M564.2,52.2 Q564.9,52.6 567.9,52.2M588.8,57.8 Q587.4,55.4 585.9,55.8M559.8,99.7 Q561.3,97.5 562.4,96.8" fill="none" stroke="#0820a0" stroke-width="0.8" stroke-opacity="0.45" stroke-linecap="round" clip-path="url(#cl9)"/><clipPath id="cl7"><path d="M599.8,43.7 C601.3,43.8 604.5,45.3 606.0,47.5 C607.4,49.6 607.1,53.7 608.7,56.5 C610.3,59.2 613.5,62.2 615.6,63.9 C617.7,65.6 620.1,63.9 621.3,66.7 C622.5,69.6 623.0,77.4 622.8,80.9 C622.6,84.3 620.9,86.2 620.2,87.4 C619.5,88.7 620.4,89.5 618.5,88.3 C616.6,87.1 611.9,83.5 608.8,80.3 C605.8,77.2 602.3,71.2 600.1,69.6 C597.8,68.0 596.3,71.5 595.4,70.7 C594.4,70.0 594.5,68.3 594.5,65.1 C594.4,61.9 594.9,54.7 595.2,51.6 C595.6,48.5 596.0,47.6 596.8,46.3 C597.6,45.0 598.3,43.5 599.8,43.7Z"/></clipPath><path d="M616.8,63.0 Q620.0,63.6 621.3,61.4M601.5,45.7 Q600.7,45.8 602.4,48.6M610.3,82.8 Q609.0,82.2 605.2,84.2M611.5,61.7 Q612.7,63.8 615.4,65.4M612.7,86.7 Q611.7,84.0 611.0,83.4M622.2,88.2 Q621.7,89.1 622.7,90.8M620.4,84.3 Q621.9,83.8 621.7,82.1M612.9,88.0 Q615.1,89.8 615.7,89.0M613.8,57.3 Q610.6,55.5 609.8,54.7M601.6,49.5 Q599.3,48.6 598.6,49.9M613.8,44.6 Q612.1,44.3 613.2,41.5M600.5,85.7 Q601.2,83.6 604.0,81.8M596.9,85.4 Q598.0,83.1 599.3,81.7M618.1,65.3 Q616.2,62.9 616.0,63.2M614.9,68.7 Q615.7,70.4 618.0,72.7M598.6,56.1 Q598.6,54.6 600.5,53.1M603.4,84.3 Q604.1,87.3 607.5,87.9M613.5,53.4 Q611.2,52.8 610.2,53.9M604.7,88.2 Q606.1,87.5 610.0,88.1M620.2,46.6 Q621.4,43.4 619.7,43.2M617.6,59.2 Q619.4,60.2 619.2,61.1M599.5,63.4 Q601.1,61.5 602.2,61.7M599.3,78.4 Q597.7,75.6 598.6,75.4M611.8,66.1 Q611.9,68.3 611.3,69.2M617.7,70.0 Q618.8,71.0 618.5,72.6" fill="none" stroke="#1f9a80" stroke-width="0.7" stroke-opacity="0.45" stroke-linecap="round" clip-path="url(#cl7)"/><clipPath id="cl8"><path d="M594.6,72.5 C595.6,70.4 597.3,68.7 599.6,69.9 C601.9,71.1 605.0,76.6 608.3,79.6 C611.6,82.7 617.1,86.6 619.4,88.3 C621.7,90.0 621.3,88.9 621.9,90.0 C622.6,91.0 624.0,92.9 623.2,94.4 C622.3,95.9 619.6,98.1 617.1,99.0 C614.6,100.0 611.4,99.9 608.3,99.9 C605.2,100.0 600.4,101.1 598.5,99.3 C596.6,97.4 597.7,91.8 596.9,89.0 C596.2,86.2 594.4,85.2 594.0,82.4 C593.6,79.7 593.7,74.5 594.6,72.5Z"/></clipPath><path d="M615.1,71.4 Q616.8,70.9 616.4,68.1M608.4,70.2 Q611.2,68.4 611.8,68.1M599.5,95.1 Q598.1,96.5 597.5,97.3M594.2,85.6 Q591.2,86.9 590.4,86.9M617.9,96.1 Q616.5,98.9 615.9,100.3M595.9,96.3 Q597.8,95.8 599.7,95.2M609.7,70.3 Q610.3,68.8 612.8,69.7M601.4,94.6 Q603.4,94.0 604.1,95.1M594.6,88.0 Q593.4,85.9 591.0,86.1M619.4,91.6 Q620.8,92.0 622.2,92.4M602.2,73.4 Q601.3,75.3 599.8,75.1M598.4,87.2 Q599.3,87.0 598.3,84.2M605.4,82.5 Q606.2,82.1 607.6,79.1M616.7,80.0 Q616.6,83.2 616.9,83.5M617.5,97.5 Q617.2,95.3 619.5,92.9M622.0,98.2 Q622.4,99.7 622.0,102.0M609.5,71.8 Q606.3,71.6 605.9,73.5M622.3,93.4 Q625.3,93.7 626.4,91.7M619.8,70.7 Q619.3,68.8 617.8,68.2M609.9,97.9 Q608.8,96.6 607.5,95.7M621.8,78.5 Q619.9,80.8 620.3,82.6M621.9,85.4 Q621.8,86.3 621.5,89.2M597.7,73.7 Q596.6,74.7 596.7,77.3M596.7,86.4 Q598.0,85.0 599.0,82.7M600.0,91.4 Q598.3,91.8 595.9,92.4" fill="none" stroke="#1aa8b0" stroke-width="0.7" stroke-opacity="0.45" stroke-linecap="round" clip-path="url(#cl8)"/></svg></body></html>
